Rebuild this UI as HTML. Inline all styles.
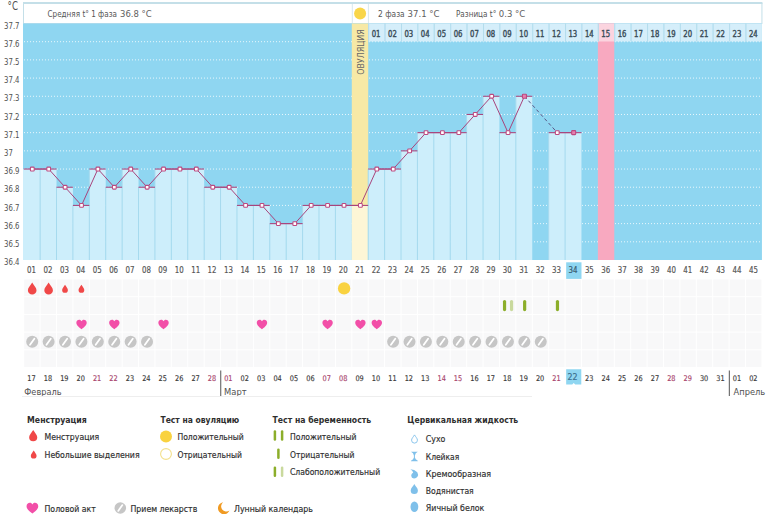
<!DOCTYPE html>
<html><head><meta charset="utf-8"><title>График</title>
<style>html,body{margin:0;padding:0;background:#fff;}body{width:770px;height:514px;overflow:hidden;position:relative;}</style>
</head><body>
<svg width="770" height="514" viewBox="0 0 770 514" style="position:absolute;left:0;top:0"><rect x="23.5" y="3.5" width="738.43" height="20.00" fill="#fff" stroke="#c4dfe8" stroke-width="1"/><rect x="23" y="2" width="739.43" height="2" fill="#c4dfe8"/><line x1="352.30" y1="4" x2="352.30" y2="23.5" stroke="#d8e8ef" stroke-width="1"/><line x1="368.40" y1="4" x2="368.40" y2="23.5" stroke="#d8e8ef" stroke-width="1"/><rect x="23" y="23.5" width="738.93" height="236.50" fill="#8fd6f1"/><line x1="24" y1="41.69" x2="761.93" y2="41.69" stroke="#fff" stroke-opacity="0.8" stroke-width="1" stroke-dasharray="1 2"/><line x1="24" y1="59.88" x2="761.93" y2="59.88" stroke="#fff" stroke-opacity="0.8" stroke-width="1" stroke-dasharray="1 2"/><line x1="24" y1="78.08" x2="761.93" y2="78.08" stroke="#fff" stroke-opacity="0.8" stroke-width="1" stroke-dasharray="1 2"/><line x1="24" y1="96.27" x2="761.93" y2="96.27" stroke="#fff" stroke-opacity="0.8" stroke-width="1" stroke-dasharray="1 2"/><line x1="24" y1="114.46" x2="761.93" y2="114.46" stroke="#fff" stroke-opacity="0.8" stroke-width="1" stroke-dasharray="1 2"/><line x1="24" y1="132.65" x2="761.93" y2="132.65" stroke="#fff" stroke-opacity="0.8" stroke-width="1" stroke-dasharray="1 2"/><line x1="24" y1="150.85" x2="761.93" y2="150.85" stroke="#fff" stroke-opacity="0.8" stroke-width="1" stroke-dasharray="1 2"/><line x1="24" y1="169.04" x2="761.93" y2="169.04" stroke="#fff" stroke-opacity="0.8" stroke-width="1" stroke-dasharray="1 2"/><line x1="24" y1="187.23" x2="761.93" y2="187.23" stroke="#fff" stroke-opacity="0.8" stroke-width="1" stroke-dasharray="1 2"/><line x1="24" y1="205.42" x2="761.93" y2="205.42" stroke="#fff" stroke-opacity="0.8" stroke-width="1" stroke-dasharray="1 2"/><line x1="24" y1="223.62" x2="761.93" y2="223.62" stroke="#fff" stroke-opacity="0.8" stroke-width="1" stroke-dasharray="1 2"/><line x1="24" y1="241.81" x2="761.93" y2="241.81" stroke="#fff" stroke-opacity="0.8" stroke-width="1" stroke-dasharray="1 2"/><rect x="351.80" y="23.5" width="16.41" height="236.50" fill="#f7e9a6"/><rect x="597.88" y="23.5" width="16.41" height="236.50" fill="#f8a9c0"/><rect x="23.00" y="169.04" width="17.11" height="90.96" fill="#cdeefb"/><rect x="40.11" y="169.04" width="16.41" height="90.96" fill="#cdeefb"/><rect x="56.51" y="187.23" width="16.41" height="72.77" fill="#cdeefb"/><rect x="72.92" y="205.42" width="16.41" height="54.58" fill="#cdeefb"/><rect x="89.32" y="169.04" width="16.41" height="90.96" fill="#cdeefb"/><rect x="105.73" y="187.23" width="16.41" height="72.77" fill="#cdeefb"/><rect x="122.13" y="169.04" width="16.40" height="90.96" fill="#cdeefb"/><rect x="138.53" y="187.23" width="16.41" height="72.77" fill="#cdeefb"/><rect x="154.94" y="169.04" width="16.41" height="90.96" fill="#cdeefb"/><rect x="171.34" y="169.04" width="16.41" height="90.96" fill="#cdeefb"/><rect x="187.75" y="169.04" width="16.41" height="90.96" fill="#cdeefb"/><rect x="204.16" y="187.23" width="16.41" height="72.77" fill="#cdeefb"/><rect x="220.56" y="187.23" width="16.41" height="72.77" fill="#cdeefb"/><rect x="236.97" y="205.42" width="16.41" height="54.58" fill="#cdeefb"/><rect x="253.37" y="205.42" width="16.41" height="54.58" fill="#cdeefb"/><rect x="269.78" y="223.62" width="16.40" height="36.38" fill="#cdeefb"/><rect x="286.18" y="223.62" width="16.40" height="36.38" fill="#cdeefb"/><rect x="302.58" y="205.42" width="16.41" height="54.58" fill="#cdeefb"/><rect x="318.99" y="205.42" width="16.41" height="54.58" fill="#cdeefb"/><rect x="335.40" y="205.42" width="16.40" height="54.58" fill="#cdeefb"/><rect x="351.80" y="205.42" width="16.40" height="54.58" fill="#fdf6d6"/><rect x="368.20" y="169.04" width="16.41" height="90.96" fill="#cdeefb"/><rect x="384.61" y="169.04" width="16.41" height="90.96" fill="#cdeefb"/><rect x="401.02" y="150.85" width="16.40" height="109.15" fill="#cdeefb"/><rect x="417.42" y="132.65" width="16.40" height="127.35" fill="#cdeefb"/><rect x="433.82" y="132.65" width="16.41" height="127.35" fill="#cdeefb"/><rect x="450.23" y="132.65" width="16.41" height="127.35" fill="#cdeefb"/><rect x="466.64" y="114.46" width="16.40" height="145.54" fill="#cdeefb"/><rect x="483.04" y="96.27" width="16.40" height="163.73" fill="#cdeefb"/><rect x="499.44" y="132.65" width="16.41" height="127.35" fill="#cdeefb"/><rect x="515.85" y="96.27" width="16.41" height="163.73" fill="#cdeefb"/><rect x="548.66" y="132.65" width="16.40" height="127.35" fill="#cdeefb"/><rect x="565.07" y="132.65" width="16.40" height="127.35" fill="#cdeefb"/><line x1="40.11" y1="169.04" x2="40.11" y2="260.0" stroke="#a6daee" stroke-width="1"/><line x1="56.51" y1="187.23" x2="56.51" y2="260.0" stroke="#a6daee" stroke-width="1"/><line x1="72.92" y1="205.42" x2="72.92" y2="260.0" stroke="#a6daee" stroke-width="1"/><line x1="89.32" y1="169.04" x2="89.32" y2="260.0" stroke="#a6daee" stroke-width="1"/><line x1="105.73" y1="187.23" x2="105.73" y2="260.0" stroke="#a6daee" stroke-width="1"/><line x1="122.13" y1="169.04" x2="122.13" y2="260.0" stroke="#a6daee" stroke-width="1"/><line x1="138.53" y1="187.23" x2="138.53" y2="260.0" stroke="#a6daee" stroke-width="1"/><line x1="154.94" y1="169.04" x2="154.94" y2="260.0" stroke="#a6daee" stroke-width="1"/><line x1="171.34" y1="169.04" x2="171.34" y2="260.0" stroke="#a6daee" stroke-width="1"/><line x1="187.75" y1="169.04" x2="187.75" y2="260.0" stroke="#a6daee" stroke-width="1"/><line x1="204.16" y1="187.23" x2="204.16" y2="260.0" stroke="#a6daee" stroke-width="1"/><line x1="220.56" y1="187.23" x2="220.56" y2="260.0" stroke="#a6daee" stroke-width="1"/><line x1="236.97" y1="205.42" x2="236.97" y2="260.0" stroke="#a6daee" stroke-width="1"/><line x1="253.37" y1="205.42" x2="253.37" y2="260.0" stroke="#a6daee" stroke-width="1"/><line x1="269.78" y1="223.62" x2="269.78" y2="260.0" stroke="#a6daee" stroke-width="1"/><line x1="286.18" y1="223.62" x2="286.18" y2="260.0" stroke="#a6daee" stroke-width="1"/><line x1="302.58" y1="205.42" x2="302.58" y2="260.0" stroke="#a6daee" stroke-width="1"/><line x1="318.99" y1="205.42" x2="318.99" y2="260.0" stroke="#a6daee" stroke-width="1"/><line x1="335.40" y1="205.42" x2="335.40" y2="260.0" stroke="#a6daee" stroke-width="1"/><line x1="368.20" y1="169.04" x2="368.20" y2="260.0" stroke="#a6daee" stroke-width="1"/><line x1="384.61" y1="169.04" x2="384.61" y2="260.0" stroke="#a6daee" stroke-width="1"/><line x1="401.02" y1="150.85" x2="401.02" y2="260.0" stroke="#a6daee" stroke-width="1"/><line x1="417.42" y1="132.65" x2="417.42" y2="260.0" stroke="#a6daee" stroke-width="1"/><line x1="433.82" y1="132.65" x2="433.82" y2="260.0" stroke="#a6daee" stroke-width="1"/><line x1="450.23" y1="132.65" x2="450.23" y2="260.0" stroke="#a6daee" stroke-width="1"/><line x1="466.64" y1="114.46" x2="466.64" y2="260.0" stroke="#a6daee" stroke-width="1"/><line x1="483.04" y1="96.27" x2="483.04" y2="260.0" stroke="#a6daee" stroke-width="1"/><line x1="499.44" y1="132.65" x2="499.44" y2="260.0" stroke="#a6daee" stroke-width="1"/><line x1="515.85" y1="96.27" x2="515.85" y2="260.0" stroke="#a6daee" stroke-width="1"/><line x1="548.66" y1="132.65" x2="548.66" y2="260.0" stroke="#a6daee" stroke-width="1"/><line x1="565.07" y1="132.65" x2="565.07" y2="260.0" stroke="#a6daee" stroke-width="1"/><rect x="368.20" y="23.5" width="16.41" height="18" fill="#d5eefa"/><line x1="368.70" y1="23.5" x2="368.70" y2="41.5" stroke="#b3dcec" stroke-width="1"/><text x="376.01" y="36.90" font-family="'DejaVu Sans', 'Liberation Sans', sans-serif" font-size="8.0" fill="#3a4d58" stroke="#3a4d58" stroke-width="0.4" text-anchor="middle" textLength="8.76" lengthAdjust="spacingAndGlyphs">01</text><rect x="384.61" y="23.5" width="16.41" height="18" fill="#d5eefa"/><line x1="385.11" y1="23.5" x2="385.11" y2="41.5" stroke="#b3dcec" stroke-width="1"/><text x="392.41" y="36.90" font-family="'DejaVu Sans', 'Liberation Sans', sans-serif" font-size="8.0" fill="#3a4d58" stroke="#3a4d58" stroke-width="0.4" text-anchor="middle" textLength="8.76" lengthAdjust="spacingAndGlyphs">02</text><rect x="401.02" y="23.5" width="16.41" height="18" fill="#d5eefa"/><line x1="401.52" y1="23.5" x2="401.52" y2="41.5" stroke="#b3dcec" stroke-width="1"/><text x="408.82" y="36.90" font-family="'DejaVu Sans', 'Liberation Sans', sans-serif" font-size="8.0" fill="#3a4d58" stroke="#3a4d58" stroke-width="0.4" text-anchor="middle" textLength="8.76" lengthAdjust="spacingAndGlyphs">03</text><rect x="417.42" y="23.5" width="16.41" height="18" fill="#d5eefa"/><line x1="417.92" y1="23.5" x2="417.92" y2="41.5" stroke="#b3dcec" stroke-width="1"/><text x="425.22" y="36.90" font-family="'DejaVu Sans', 'Liberation Sans', sans-serif" font-size="8.0" fill="#3a4d58" stroke="#3a4d58" stroke-width="0.4" text-anchor="middle" textLength="8.76" lengthAdjust="spacingAndGlyphs">04</text><rect x="433.82" y="23.5" width="16.41" height="18" fill="#d5eefa"/><line x1="434.32" y1="23.5" x2="434.32" y2="41.5" stroke="#b3dcec" stroke-width="1"/><text x="441.63" y="36.90" font-family="'DejaVu Sans', 'Liberation Sans', sans-serif" font-size="8.0" fill="#3a4d58" stroke="#3a4d58" stroke-width="0.4" text-anchor="middle" textLength="8.76" lengthAdjust="spacingAndGlyphs">05</text><rect x="450.23" y="23.5" width="16.41" height="18" fill="#d5eefa"/><line x1="450.73" y1="23.5" x2="450.73" y2="41.5" stroke="#b3dcec" stroke-width="1"/><text x="458.03" y="36.90" font-family="'DejaVu Sans', 'Liberation Sans', sans-serif" font-size="8.0" fill="#3a4d58" stroke="#3a4d58" stroke-width="0.4" text-anchor="middle" textLength="8.76" lengthAdjust="spacingAndGlyphs">06</text><rect x="466.64" y="23.5" width="16.41" height="18" fill="#d5eefa"/><line x1="467.14" y1="23.5" x2="467.14" y2="41.5" stroke="#b3dcec" stroke-width="1"/><text x="474.44" y="36.90" font-family="'DejaVu Sans', 'Liberation Sans', sans-serif" font-size="8.0" fill="#3a4d58" stroke="#3a4d58" stroke-width="0.4" text-anchor="middle" textLength="8.76" lengthAdjust="spacingAndGlyphs">07</text><rect x="483.04" y="23.5" width="16.41" height="18" fill="#d5eefa"/><line x1="483.54" y1="23.5" x2="483.54" y2="41.5" stroke="#b3dcec" stroke-width="1"/><text x="490.84" y="36.90" font-family="'DejaVu Sans', 'Liberation Sans', sans-serif" font-size="8.0" fill="#3a4d58" stroke="#3a4d58" stroke-width="0.4" text-anchor="middle" textLength="8.76" lengthAdjust="spacingAndGlyphs">08</text><rect x="499.44" y="23.5" width="16.41" height="18" fill="#d5eefa"/><line x1="499.94" y1="23.5" x2="499.94" y2="41.5" stroke="#b3dcec" stroke-width="1"/><text x="507.25" y="36.90" font-family="'DejaVu Sans', 'Liberation Sans', sans-serif" font-size="8.0" fill="#3a4d58" stroke="#3a4d58" stroke-width="0.4" text-anchor="middle" textLength="8.76" lengthAdjust="spacingAndGlyphs">09</text><rect x="515.85" y="23.5" width="16.41" height="18" fill="#d5eefa"/><line x1="516.35" y1="23.5" x2="516.35" y2="41.5" stroke="#b3dcec" stroke-width="1"/><text x="523.65" y="36.90" font-family="'DejaVu Sans', 'Liberation Sans', sans-serif" font-size="8.0" fill="#3a4d58" stroke="#3a4d58" stroke-width="0.4" text-anchor="middle" textLength="8.76" lengthAdjust="spacingAndGlyphs">10</text><rect x="532.26" y="23.5" width="16.41" height="18" fill="#d5eefa"/><line x1="532.76" y1="23.5" x2="532.76" y2="41.5" stroke="#b3dcec" stroke-width="1"/><text x="540.06" y="36.90" font-family="'DejaVu Sans', 'Liberation Sans', sans-serif" font-size="8.0" fill="#3a4d58" stroke="#3a4d58" stroke-width="0.4" text-anchor="middle" textLength="8.76" lengthAdjust="spacingAndGlyphs">11</text><rect x="548.66" y="23.5" width="16.41" height="18" fill="#d5eefa"/><line x1="549.16" y1="23.5" x2="549.16" y2="41.5" stroke="#b3dcec" stroke-width="1"/><text x="556.46" y="36.90" font-family="'DejaVu Sans', 'Liberation Sans', sans-serif" font-size="8.0" fill="#3a4d58" stroke="#3a4d58" stroke-width="0.4" text-anchor="middle" textLength="8.76" lengthAdjust="spacingAndGlyphs">12</text><rect x="565.07" y="23.5" width="16.41" height="18" fill="#d5eefa"/><line x1="565.57" y1="23.5" x2="565.57" y2="41.5" stroke="#b3dcec" stroke-width="1"/><text x="572.87" y="36.90" font-family="'DejaVu Sans', 'Liberation Sans', sans-serif" font-size="8.0" fill="#3a4d58" stroke="#3a4d58" stroke-width="0.4" text-anchor="middle" textLength="8.76" lengthAdjust="spacingAndGlyphs">13</text><rect x="581.47" y="23.5" width="16.41" height="18" fill="#d5eefa"/><line x1="581.97" y1="23.5" x2="581.97" y2="41.5" stroke="#b3dcec" stroke-width="1"/><text x="589.27" y="36.90" font-family="'DejaVu Sans', 'Liberation Sans', sans-serif" font-size="8.0" fill="#3a4d58" stroke="#3a4d58" stroke-width="0.4" text-anchor="middle" textLength="8.76" lengthAdjust="spacingAndGlyphs">14</text><rect x="597.88" y="23.5" width="16.41" height="18" fill="#fbd4df"/><line x1="598.38" y1="23.5" x2="598.38" y2="41.5" stroke="#b3dcec" stroke-width="1"/><text x="605.68" y="36.90" font-family="'DejaVu Sans', 'Liberation Sans', sans-serif" font-size="8.0" fill="#3a4d58" stroke="#3a4d58" stroke-width="0.4" text-anchor="middle" textLength="8.76" lengthAdjust="spacingAndGlyphs">15</text><rect x="614.28" y="23.5" width="16.41" height="18" fill="#d5eefa"/><line x1="614.78" y1="23.5" x2="614.78" y2="41.5" stroke="#b3dcec" stroke-width="1"/><text x="622.08" y="36.90" font-family="'DejaVu Sans', 'Liberation Sans', sans-serif" font-size="8.0" fill="#3a4d58" stroke="#3a4d58" stroke-width="0.4" text-anchor="middle" textLength="8.76" lengthAdjust="spacingAndGlyphs">16</text><rect x="630.69" y="23.5" width="16.41" height="18" fill="#d5eefa"/><line x1="631.19" y1="23.5" x2="631.19" y2="41.5" stroke="#b3dcec" stroke-width="1"/><text x="638.49" y="36.90" font-family="'DejaVu Sans', 'Liberation Sans', sans-serif" font-size="8.0" fill="#3a4d58" stroke="#3a4d58" stroke-width="0.4" text-anchor="middle" textLength="8.76" lengthAdjust="spacingAndGlyphs">17</text><rect x="647.09" y="23.5" width="16.41" height="18" fill="#d5eefa"/><line x1="647.59" y1="23.5" x2="647.59" y2="41.5" stroke="#b3dcec" stroke-width="1"/><text x="654.89" y="36.90" font-family="'DejaVu Sans', 'Liberation Sans', sans-serif" font-size="8.0" fill="#3a4d58" stroke="#3a4d58" stroke-width="0.4" text-anchor="middle" textLength="8.76" lengthAdjust="spacingAndGlyphs">18</text><rect x="663.50" y="23.5" width="16.41" height="18" fill="#d5eefa"/><line x1="664.00" y1="23.5" x2="664.00" y2="41.5" stroke="#b3dcec" stroke-width="1"/><text x="671.30" y="36.90" font-family="'DejaVu Sans', 'Liberation Sans', sans-serif" font-size="8.0" fill="#3a4d58" stroke="#3a4d58" stroke-width="0.4" text-anchor="middle" textLength="8.76" lengthAdjust="spacingAndGlyphs">19</text><rect x="679.90" y="23.5" width="16.41" height="18" fill="#d5eefa"/><line x1="680.40" y1="23.5" x2="680.40" y2="41.5" stroke="#b3dcec" stroke-width="1"/><text x="687.70" y="36.90" font-family="'DejaVu Sans', 'Liberation Sans', sans-serif" font-size="8.0" fill="#3a4d58" stroke="#3a4d58" stroke-width="0.4" text-anchor="middle" textLength="8.76" lengthAdjust="spacingAndGlyphs">20</text><rect x="696.31" y="23.5" width="16.41" height="18" fill="#d5eefa"/><line x1="696.81" y1="23.5" x2="696.81" y2="41.5" stroke="#b3dcec" stroke-width="1"/><text x="704.11" y="36.90" font-family="'DejaVu Sans', 'Liberation Sans', sans-serif" font-size="8.0" fill="#3a4d58" stroke="#3a4d58" stroke-width="0.4" text-anchor="middle" textLength="8.76" lengthAdjust="spacingAndGlyphs">21</text><rect x="712.71" y="23.5" width="16.41" height="18" fill="#d5eefa"/><line x1="713.21" y1="23.5" x2="713.21" y2="41.5" stroke="#b3dcec" stroke-width="1"/><text x="720.51" y="36.90" font-family="'DejaVu Sans', 'Liberation Sans', sans-serif" font-size="8.0" fill="#3a4d58" stroke="#3a4d58" stroke-width="0.4" text-anchor="middle" textLength="8.76" lengthAdjust="spacingAndGlyphs">22</text><rect x="729.12" y="23.5" width="16.41" height="18" fill="#d5eefa"/><line x1="729.62" y1="23.5" x2="729.62" y2="41.5" stroke="#b3dcec" stroke-width="1"/><text x="736.92" y="36.90" font-family="'DejaVu Sans', 'Liberation Sans', sans-serif" font-size="8.0" fill="#3a4d58" stroke="#3a4d58" stroke-width="0.4" text-anchor="middle" textLength="8.76" lengthAdjust="spacingAndGlyphs">23</text><rect x="745.52" y="23.5" width="16.41" height="18" fill="#d5eefa"/><line x1="746.02" y1="23.5" x2="746.02" y2="41.5" stroke="#b3dcec" stroke-width="1"/><text x="753.32" y="36.90" font-family="'DejaVu Sans', 'Liberation Sans', sans-serif" font-size="8.0" fill="#3a4d58" stroke="#3a4d58" stroke-width="0.4" text-anchor="middle" textLength="8.76" lengthAdjust="spacingAndGlyphs">24</text><line x1="23.70" y1="169.04" x2="40.11" y2="169.04" stroke="#a8487f" stroke-width="1.1"/><line x1="40.11" y1="169.04" x2="56.51" y2="169.04" stroke="#a8487f" stroke-width="1.1"/><line x1="56.51" y1="187.23" x2="72.92" y2="187.23" stroke="#a8487f" stroke-width="1.1"/><line x1="72.92" y1="205.42" x2="89.32" y2="205.42" stroke="#a8487f" stroke-width="1.1"/><line x1="89.32" y1="169.04" x2="105.73" y2="169.04" stroke="#a8487f" stroke-width="1.1"/><line x1="105.73" y1="187.23" x2="122.13" y2="187.23" stroke="#a8487f" stroke-width="1.1"/><line x1="122.13" y1="169.04" x2="138.54" y2="169.04" stroke="#a8487f" stroke-width="1.1"/><line x1="138.53" y1="187.23" x2="154.94" y2="187.23" stroke="#a8487f" stroke-width="1.1"/><line x1="154.94" y1="169.04" x2="171.34" y2="169.04" stroke="#a8487f" stroke-width="1.1"/><line x1="171.34" y1="169.04" x2="187.75" y2="169.04" stroke="#a8487f" stroke-width="1.1"/><line x1="187.75" y1="169.04" x2="204.16" y2="169.04" stroke="#a8487f" stroke-width="1.1"/><line x1="204.16" y1="187.23" x2="220.56" y2="187.23" stroke="#a8487f" stroke-width="1.1"/><line x1="220.56" y1="187.23" x2="236.97" y2="187.23" stroke="#a8487f" stroke-width="1.1"/><line x1="236.97" y1="205.42" x2="253.37" y2="205.42" stroke="#a8487f" stroke-width="1.1"/><line x1="253.37" y1="205.42" x2="269.77" y2="205.42" stroke="#a8487f" stroke-width="1.1"/><line x1="269.78" y1="223.62" x2="286.18" y2="223.62" stroke="#a8487f" stroke-width="1.1"/><line x1="286.18" y1="223.62" x2="302.59" y2="223.62" stroke="#a8487f" stroke-width="1.1"/><line x1="302.58" y1="205.42" x2="318.99" y2="205.42" stroke="#a8487f" stroke-width="1.1"/><line x1="318.99" y1="205.42" x2="335.39" y2="205.42" stroke="#a8487f" stroke-width="1.1"/><line x1="335.40" y1="205.42" x2="351.80" y2="205.42" stroke="#a8487f" stroke-width="1.1"/><line x1="351.80" y1="205.42" x2="368.21" y2="205.42" stroke="#a8487f" stroke-width="1.1"/><line x1="368.20" y1="169.04" x2="384.61" y2="169.04" stroke="#a8487f" stroke-width="1.1"/><line x1="384.61" y1="169.04" x2="401.01" y2="169.04" stroke="#a8487f" stroke-width="1.1"/><line x1="401.02" y1="150.85" x2="417.42" y2="150.85" stroke="#a8487f" stroke-width="1.1"/><line x1="417.42" y1="132.65" x2="433.83" y2="132.65" stroke="#a8487f" stroke-width="1.1"/><line x1="433.82" y1="132.65" x2="450.23" y2="132.65" stroke="#a8487f" stroke-width="1.1"/><line x1="450.23" y1="132.65" x2="466.63" y2="132.65" stroke="#a8487f" stroke-width="1.1"/><line x1="466.64" y1="114.46" x2="483.04" y2="114.46" stroke="#a8487f" stroke-width="1.1"/><line x1="483.04" y1="96.27" x2="499.45" y2="96.27" stroke="#a8487f" stroke-width="1.1"/><line x1="499.44" y1="132.65" x2="515.85" y2="132.65" stroke="#a8487f" stroke-width="1.1"/><line x1="515.85" y1="96.27" x2="532.25" y2="96.27" stroke="#a8487f" stroke-width="1.1"/><line x1="548.66" y1="132.65" x2="565.07" y2="132.65" stroke="#a8487f" stroke-width="1.1"/><line x1="565.07" y1="132.65" x2="581.47" y2="132.65" stroke="#a8487f" stroke-width="1.1"/><line x1="32.30" y1="169.04" x2="48.71" y2="169.04" stroke="#a8447c" stroke-width="1"/><line x1="48.71" y1="169.04" x2="65.11" y2="187.23" stroke="#a8447c" stroke-width="1"/><line x1="65.11" y1="187.23" x2="81.52" y2="205.42" stroke="#a8447c" stroke-width="1"/><line x1="81.52" y1="205.42" x2="97.92" y2="169.04" stroke="#a8447c" stroke-width="1"/><line x1="97.92" y1="169.04" x2="114.33" y2="187.23" stroke="#a8447c" stroke-width="1"/><line x1="114.33" y1="187.23" x2="130.73" y2="169.04" stroke="#a8447c" stroke-width="1"/><line x1="130.73" y1="169.04" x2="147.14" y2="187.23" stroke="#a8447c" stroke-width="1"/><line x1="147.14" y1="187.23" x2="163.54" y2="169.04" stroke="#a8447c" stroke-width="1"/><line x1="163.54" y1="169.04" x2="179.95" y2="169.04" stroke="#a8447c" stroke-width="1"/><line x1="179.95" y1="169.04" x2="196.35" y2="169.04" stroke="#a8447c" stroke-width="1"/><line x1="196.35" y1="169.04" x2="212.76" y2="187.23" stroke="#a8447c" stroke-width="1"/><line x1="212.76" y1="187.23" x2="229.16" y2="187.23" stroke="#a8447c" stroke-width="1"/><line x1="229.16" y1="187.23" x2="245.57" y2="205.42" stroke="#a8447c" stroke-width="1"/><line x1="245.57" y1="205.42" x2="261.97" y2="205.42" stroke="#a8447c" stroke-width="1"/><line x1="261.97" y1="205.42" x2="278.38" y2="223.62" stroke="#a8447c" stroke-width="1"/><line x1="278.38" y1="223.62" x2="294.78" y2="223.62" stroke="#a8447c" stroke-width="1"/><line x1="294.78" y1="223.62" x2="311.19" y2="205.42" stroke="#a8447c" stroke-width="1"/><line x1="311.19" y1="205.42" x2="327.59" y2="205.42" stroke="#a8447c" stroke-width="1"/><line x1="327.59" y1="205.42" x2="344.00" y2="205.42" stroke="#a8447c" stroke-width="1"/><line x1="344.00" y1="205.42" x2="360.40" y2="205.42" stroke="#a8447c" stroke-width="1"/><line x1="360.40" y1="205.42" x2="376.81" y2="169.04" stroke="#a8447c" stroke-width="1"/><line x1="376.81" y1="169.04" x2="393.21" y2="169.04" stroke="#a8447c" stroke-width="1"/><line x1="393.21" y1="169.04" x2="409.62" y2="150.85" stroke="#a8447c" stroke-width="1"/><line x1="409.62" y1="150.85" x2="426.02" y2="132.65" stroke="#a8447c" stroke-width="1"/><line x1="426.02" y1="132.65" x2="442.43" y2="132.65" stroke="#a8447c" stroke-width="1"/><line x1="442.43" y1="132.65" x2="458.83" y2="132.65" stroke="#a8447c" stroke-width="1"/><line x1="458.83" y1="132.65" x2="475.24" y2="114.46" stroke="#a8447c" stroke-width="1"/><line x1="475.24" y1="114.46" x2="491.64" y2="96.27" stroke="#a8447c" stroke-width="1"/><line x1="491.64" y1="96.27" x2="508.05" y2="132.65" stroke="#a8447c" stroke-width="1"/><line x1="508.05" y1="132.65" x2="524.45" y2="96.27" stroke="#a8447c" stroke-width="1"/><line x1="524.45" y1="96.27" x2="557.26" y2="132.65" stroke="#5a5888" stroke-width="1" stroke-dasharray="3.5 2.5"/><line x1="557.26" y1="132.65" x2="573.67" y2="132.65" stroke="#a8447c" stroke-width="1"/><rect x="30.40" y="167.14" width="3.8" height="3.8" rx="0.8" fill="#fff" stroke="#bd4a80" stroke-width="1.1"/><rect x="46.81" y="167.14" width="3.8" height="3.8" rx="0.8" fill="#fff" stroke="#bd4a80" stroke-width="1.1"/><rect x="63.21" y="185.33" width="3.8" height="3.8" rx="0.8" fill="#fff" stroke="#bd4a80" stroke-width="1.1"/><rect x="79.62" y="203.52" width="3.8" height="3.8" rx="0.8" fill="#fff" stroke="#bd4a80" stroke-width="1.1"/><rect x="96.02" y="167.14" width="3.8" height="3.8" rx="0.8" fill="#fff" stroke="#bd4a80" stroke-width="1.1"/><rect x="112.43" y="185.33" width="3.8" height="3.8" rx="0.8" fill="#fff" stroke="#bd4a80" stroke-width="1.1"/><rect x="128.83" y="167.14" width="3.8" height="3.8" rx="0.8" fill="#fff" stroke="#bd4a80" stroke-width="1.1"/><rect x="145.24" y="185.33" width="3.8" height="3.8" rx="0.8" fill="#fff" stroke="#bd4a80" stroke-width="1.1"/><rect x="161.64" y="167.14" width="3.8" height="3.8" rx="0.8" fill="#fff" stroke="#bd4a80" stroke-width="1.1"/><rect x="178.05" y="167.14" width="3.8" height="3.8" rx="0.8" fill="#fff" stroke="#bd4a80" stroke-width="1.1"/><rect x="194.45" y="167.14" width="3.8" height="3.8" rx="0.8" fill="#fff" stroke="#bd4a80" stroke-width="1.1"/><rect x="210.86" y="185.33" width="3.8" height="3.8" rx="0.8" fill="#fff" stroke="#bd4a80" stroke-width="1.1"/><rect x="227.26" y="185.33" width="3.8" height="3.8" rx="0.8" fill="#fff" stroke="#bd4a80" stroke-width="1.1"/><rect x="243.67" y="203.52" width="3.8" height="3.8" rx="0.8" fill="#fff" stroke="#bd4a80" stroke-width="1.1"/><rect x="260.07" y="203.52" width="3.8" height="3.8" rx="0.8" fill="#fff" stroke="#bd4a80" stroke-width="1.1"/><rect x="276.48" y="221.72" width="3.8" height="3.8" rx="0.8" fill="#fff" stroke="#bd4a80" stroke-width="1.1"/><rect x="292.88" y="221.72" width="3.8" height="3.8" rx="0.8" fill="#fff" stroke="#bd4a80" stroke-width="1.1"/><rect x="309.29" y="203.52" width="3.8" height="3.8" rx="0.8" fill="#fff" stroke="#bd4a80" stroke-width="1.1"/><rect x="325.69" y="203.52" width="3.8" height="3.8" rx="0.8" fill="#fff" stroke="#bd4a80" stroke-width="1.1"/><rect x="342.10" y="203.52" width="3.8" height="3.8" rx="0.8" fill="#fff" stroke="#bd4a80" stroke-width="1.1"/><rect x="358.50" y="203.52" width="3.8" height="3.8" rx="0.8" fill="#fff" stroke="#bd4a80" stroke-width="1.1"/><rect x="374.91" y="167.14" width="3.8" height="3.8" rx="0.8" fill="#fff" stroke="#bd4a80" stroke-width="1.1"/><rect x="391.31" y="167.14" width="3.8" height="3.8" rx="0.8" fill="#fff" stroke="#bd4a80" stroke-width="1.1"/><rect x="407.72" y="148.95" width="3.8" height="3.8" rx="0.8" fill="#fff" stroke="#bd4a80" stroke-width="1.1"/><rect x="424.12" y="130.75" width="3.8" height="3.8" rx="0.8" fill="#fff" stroke="#bd4a80" stroke-width="1.1"/><rect x="440.53" y="130.75" width="3.8" height="3.8" rx="0.8" fill="#fff" stroke="#bd4a80" stroke-width="1.1"/><rect x="456.93" y="130.75" width="3.8" height="3.8" rx="0.8" fill="#fff" stroke="#bd4a80" stroke-width="1.1"/><rect x="473.34" y="112.56" width="3.8" height="3.8" rx="0.8" fill="#fff" stroke="#bd4a80" stroke-width="1.1"/><rect x="489.74" y="94.37" width="3.8" height="3.8" rx="0.8" fill="#fff" stroke="#bd4a80" stroke-width="1.1"/><rect x="506.15" y="130.75" width="3.8" height="3.8" rx="0.8" fill="#fff" stroke="#bd4a80" stroke-width="1.1"/><rect x="522.45" y="94.27" width="4" height="4" rx="0.6" fill="#e680b0" stroke="#bd4a80" stroke-width="1.1"/><rect x="555.36" y="130.75" width="3.8" height="3.8" rx="0.8" fill="#fff" stroke="#bd4a80" stroke-width="1.1"/><rect x="571.67" y="130.65" width="4" height="4" rx="0.6" fill="#e680b0" stroke="#bd4a80" stroke-width="1.1"/><text transform="translate(363.6,74.8) rotate(-90)" font-family="'DejaVu Sans', 'Liberation Sans', sans-serif" font-size="8.6" fill="#666" textLength="45.5" lengthAdjust="spacingAndGlyphs">ОВУЛЯЦИЯ</text><circle cx="360.1" cy="13.4" r="6" fill="#f9d64a"/><text x="47.50" y="16.80" font-family="'DejaVu Sans', 'Liberation Sans', sans-serif" font-size="8.3" fill="#555" textLength="69.48" lengthAdjust="spacingAndGlyphs">Средняя t° 1 фаза</text><text x="120.00" y="16.80" font-family="'DejaVu Sans', 'Liberation Sans', sans-serif" font-size="9.4" fill="#5e5e5e" textLength="31.66" lengthAdjust="spacingAndGlyphs">36.8 °C</text><text x="378.10" y="16.80" font-family="'DejaVu Sans', 'Liberation Sans', sans-serif" font-size="8.3" fill="#555" textLength="26.58" lengthAdjust="spacingAndGlyphs">2 фаза</text><text x="407.60" y="16.80" font-family="'DejaVu Sans', 'Liberation Sans', sans-serif" font-size="9.4" fill="#5e5e5e" textLength="31.86" lengthAdjust="spacingAndGlyphs">37.1 °C</text><text x="456.00" y="16.80" font-family="'DejaVu Sans', 'Liberation Sans', sans-serif" font-size="8.3" fill="#555" textLength="40.28" lengthAdjust="spacingAndGlyphs">Разница t°</text><text x="498.80" y="16.80" font-family="'DejaVu Sans', 'Liberation Sans', sans-serif" font-size="9.4" fill="#5e5e5e" textLength="26.46" lengthAdjust="spacingAndGlyphs">0.3 °C</text><text x="7.60" y="9.70" font-family="'DejaVu Sans', 'Liberation Sans', sans-serif" font-size="11.5" fill="#505050" textLength="10.30" lengthAdjust="spacingAndGlyphs">°C</text><text x="4.10" y="28.60" font-family="'DejaVu Sans', 'Liberation Sans', sans-serif" font-size="9" fill="#505050" textLength="15.43" lengthAdjust="spacingAndGlyphs">37.7</text><text x="4.10" y="46.79" font-family="'DejaVu Sans', 'Liberation Sans', sans-serif" font-size="9" fill="#505050" textLength="15.43" lengthAdjust="spacingAndGlyphs">37.6</text><text x="4.10" y="64.98" font-family="'DejaVu Sans', 'Liberation Sans', sans-serif" font-size="9" fill="#505050" textLength="15.43" lengthAdjust="spacingAndGlyphs">37.5</text><text x="4.10" y="83.18" font-family="'DejaVu Sans', 'Liberation Sans', sans-serif" font-size="9" fill="#505050" textLength="15.43" lengthAdjust="spacingAndGlyphs">37.4</text><text x="4.10" y="101.37" font-family="'DejaVu Sans', 'Liberation Sans', sans-serif" font-size="9" fill="#505050" textLength="15.43" lengthAdjust="spacingAndGlyphs">37.3</text><text x="4.10" y="119.56" font-family="'DejaVu Sans', 'Liberation Sans', sans-serif" font-size="9" fill="#505050" textLength="15.43" lengthAdjust="spacingAndGlyphs">37.2</text><text x="4.10" y="137.75" font-family="'DejaVu Sans', 'Liberation Sans', sans-serif" font-size="9" fill="#505050" textLength="15.43" lengthAdjust="spacingAndGlyphs">37.1</text><text x="4.10" y="155.95" font-family="'DejaVu Sans', 'Liberation Sans', sans-serif" font-size="9" fill="#505050" textLength="8.73" lengthAdjust="spacingAndGlyphs">37</text><text x="4.10" y="174.14" font-family="'DejaVu Sans', 'Liberation Sans', sans-serif" font-size="9" fill="#505050" textLength="15.43" lengthAdjust="spacingAndGlyphs">36.9</text><text x="4.10" y="192.33" font-family="'DejaVu Sans', 'Liberation Sans', sans-serif" font-size="9" fill="#505050" textLength="15.43" lengthAdjust="spacingAndGlyphs">36.8</text><text x="4.10" y="210.52" font-family="'DejaVu Sans', 'Liberation Sans', sans-serif" font-size="9" fill="#505050" textLength="15.43" lengthAdjust="spacingAndGlyphs">36.7</text><text x="4.10" y="228.72" font-family="'DejaVu Sans', 'Liberation Sans', sans-serif" font-size="9" fill="#505050" textLength="15.43" lengthAdjust="spacingAndGlyphs">36.6</text><text x="4.10" y="246.91" font-family="'DejaVu Sans', 'Liberation Sans', sans-serif" font-size="9" fill="#505050" textLength="15.43" lengthAdjust="spacingAndGlyphs">36.5</text><text x="4.10" y="265.10" font-family="'DejaVu Sans', 'Liberation Sans', sans-serif" font-size="9" fill="#505050" textLength="15.43" lengthAdjust="spacingAndGlyphs">36.4</text><rect x="566.17" y="262.3" width="15.31" height="16.6" fill="#8fd6f1"/><text x="31.60" y="273.00" font-family="'DejaVu Sans', 'Liberation Sans', sans-serif" font-size="8.1" fill="#555555" stroke="#555555" stroke-width="0.18" text-anchor="middle" textLength="8.97" lengthAdjust="spacingAndGlyphs">01</text><text x="48.01" y="273.00" font-family="'DejaVu Sans', 'Liberation Sans', sans-serif" font-size="8.1" fill="#555555" stroke="#555555" stroke-width="0.18" text-anchor="middle" textLength="8.97" lengthAdjust="spacingAndGlyphs">02</text><text x="64.41" y="273.00" font-family="'DejaVu Sans', 'Liberation Sans', sans-serif" font-size="8.1" fill="#555555" stroke="#555555" stroke-width="0.18" text-anchor="middle" textLength="8.97" lengthAdjust="spacingAndGlyphs">03</text><text x="80.82" y="273.00" font-family="'DejaVu Sans', 'Liberation Sans', sans-serif" font-size="8.1" fill="#555555" stroke="#555555" stroke-width="0.18" text-anchor="middle" textLength="8.97" lengthAdjust="spacingAndGlyphs">04</text><text x="97.22" y="273.00" font-family="'DejaVu Sans', 'Liberation Sans', sans-serif" font-size="8.1" fill="#555555" stroke="#555555" stroke-width="0.18" text-anchor="middle" textLength="8.97" lengthAdjust="spacingAndGlyphs">05</text><text x="113.63" y="273.00" font-family="'DejaVu Sans', 'Liberation Sans', sans-serif" font-size="8.1" fill="#555555" stroke="#555555" stroke-width="0.18" text-anchor="middle" textLength="8.97" lengthAdjust="spacingAndGlyphs">06</text><text x="130.03" y="273.00" font-family="'DejaVu Sans', 'Liberation Sans', sans-serif" font-size="8.1" fill="#555555" stroke="#555555" stroke-width="0.18" text-anchor="middle" textLength="8.97" lengthAdjust="spacingAndGlyphs">07</text><text x="146.44" y="273.00" font-family="'DejaVu Sans', 'Liberation Sans', sans-serif" font-size="8.1" fill="#555555" stroke="#555555" stroke-width="0.18" text-anchor="middle" textLength="8.97" lengthAdjust="spacingAndGlyphs">08</text><text x="162.84" y="273.00" font-family="'DejaVu Sans', 'Liberation Sans', sans-serif" font-size="8.1" fill="#555555" stroke="#555555" stroke-width="0.18" text-anchor="middle" textLength="8.97" lengthAdjust="spacingAndGlyphs">09</text><text x="179.25" y="273.00" font-family="'DejaVu Sans', 'Liberation Sans', sans-serif" font-size="8.1" fill="#555555" stroke="#555555" stroke-width="0.18" text-anchor="middle" textLength="8.97" lengthAdjust="spacingAndGlyphs">10</text><text x="195.65" y="273.00" font-family="'DejaVu Sans', 'Liberation Sans', sans-serif" font-size="8.1" fill="#555555" stroke="#555555" stroke-width="0.18" text-anchor="middle" textLength="8.97" lengthAdjust="spacingAndGlyphs">11</text><text x="212.06" y="273.00" font-family="'DejaVu Sans', 'Liberation Sans', sans-serif" font-size="8.1" fill="#555555" stroke="#555555" stroke-width="0.18" text-anchor="middle" textLength="8.97" lengthAdjust="spacingAndGlyphs">12</text><text x="228.46" y="273.00" font-family="'DejaVu Sans', 'Liberation Sans', sans-serif" font-size="8.1" fill="#555555" stroke="#555555" stroke-width="0.18" text-anchor="middle" textLength="8.97" lengthAdjust="spacingAndGlyphs">13</text><text x="244.87" y="273.00" font-family="'DejaVu Sans', 'Liberation Sans', sans-serif" font-size="8.1" fill="#555555" stroke="#555555" stroke-width="0.18" text-anchor="middle" textLength="8.97" lengthAdjust="spacingAndGlyphs">14</text><text x="261.27" y="273.00" font-family="'DejaVu Sans', 'Liberation Sans', sans-serif" font-size="8.1" fill="#555555" stroke="#555555" stroke-width="0.18" text-anchor="middle" textLength="8.97" lengthAdjust="spacingAndGlyphs">15</text><text x="277.68" y="273.00" font-family="'DejaVu Sans', 'Liberation Sans', sans-serif" font-size="8.1" fill="#555555" stroke="#555555" stroke-width="0.18" text-anchor="middle" textLength="8.97" lengthAdjust="spacingAndGlyphs">16</text><text x="294.08" y="273.00" font-family="'DejaVu Sans', 'Liberation Sans', sans-serif" font-size="8.1" fill="#555555" stroke="#555555" stroke-width="0.18" text-anchor="middle" textLength="8.97" lengthAdjust="spacingAndGlyphs">17</text><text x="310.49" y="273.00" font-family="'DejaVu Sans', 'Liberation Sans', sans-serif" font-size="8.1" fill="#555555" stroke="#555555" stroke-width="0.18" text-anchor="middle" textLength="8.97" lengthAdjust="spacingAndGlyphs">18</text><text x="326.89" y="273.00" font-family="'DejaVu Sans', 'Liberation Sans', sans-serif" font-size="8.1" fill="#555555" stroke="#555555" stroke-width="0.18" text-anchor="middle" textLength="8.97" lengthAdjust="spacingAndGlyphs">19</text><text x="343.30" y="273.00" font-family="'DejaVu Sans', 'Liberation Sans', sans-serif" font-size="8.1" fill="#555555" stroke="#555555" stroke-width="0.18" text-anchor="middle" textLength="8.97" lengthAdjust="spacingAndGlyphs">20</text><text x="359.70" y="273.00" font-family="'DejaVu Sans', 'Liberation Sans', sans-serif" font-size="8.1" fill="#555555" stroke="#555555" stroke-width="0.18" text-anchor="middle" textLength="8.97" lengthAdjust="spacingAndGlyphs">21</text><text x="376.11" y="273.00" font-family="'DejaVu Sans', 'Liberation Sans', sans-serif" font-size="8.1" fill="#555555" stroke="#555555" stroke-width="0.18" text-anchor="middle" textLength="8.97" lengthAdjust="spacingAndGlyphs">22</text><text x="392.51" y="273.00" font-family="'DejaVu Sans', 'Liberation Sans', sans-serif" font-size="8.1" fill="#555555" stroke="#555555" stroke-width="0.18" text-anchor="middle" textLength="8.97" lengthAdjust="spacingAndGlyphs">23</text><text x="408.92" y="273.00" font-family="'DejaVu Sans', 'Liberation Sans', sans-serif" font-size="8.1" fill="#555555" stroke="#555555" stroke-width="0.18" text-anchor="middle" textLength="8.97" lengthAdjust="spacingAndGlyphs">24</text><text x="425.32" y="273.00" font-family="'DejaVu Sans', 'Liberation Sans', sans-serif" font-size="8.1" fill="#555555" stroke="#555555" stroke-width="0.18" text-anchor="middle" textLength="8.97" lengthAdjust="spacingAndGlyphs">25</text><text x="441.73" y="273.00" font-family="'DejaVu Sans', 'Liberation Sans', sans-serif" font-size="8.1" fill="#555555" stroke="#555555" stroke-width="0.18" text-anchor="middle" textLength="8.97" lengthAdjust="spacingAndGlyphs">26</text><text x="458.13" y="273.00" font-family="'DejaVu Sans', 'Liberation Sans', sans-serif" font-size="8.1" fill="#555555" stroke="#555555" stroke-width="0.18" text-anchor="middle" textLength="8.97" lengthAdjust="spacingAndGlyphs">27</text><text x="474.54" y="273.00" font-family="'DejaVu Sans', 'Liberation Sans', sans-serif" font-size="8.1" fill="#555555" stroke="#555555" stroke-width="0.18" text-anchor="middle" textLength="8.97" lengthAdjust="spacingAndGlyphs">28</text><text x="490.94" y="273.00" font-family="'DejaVu Sans', 'Liberation Sans', sans-serif" font-size="8.1" fill="#555555" stroke="#555555" stroke-width="0.18" text-anchor="middle" textLength="8.97" lengthAdjust="spacingAndGlyphs">29</text><text x="507.35" y="273.00" font-family="'DejaVu Sans', 'Liberation Sans', sans-serif" font-size="8.1" fill="#555555" stroke="#555555" stroke-width="0.18" text-anchor="middle" textLength="8.97" lengthAdjust="spacingAndGlyphs">30</text><text x="523.75" y="273.00" font-family="'DejaVu Sans', 'Liberation Sans', sans-serif" font-size="8.1" fill="#555555" stroke="#555555" stroke-width="0.18" text-anchor="middle" textLength="8.97" lengthAdjust="spacingAndGlyphs">31</text><text x="540.16" y="273.00" font-family="'DejaVu Sans', 'Liberation Sans', sans-serif" font-size="8.1" fill="#555555" stroke="#555555" stroke-width="0.18" text-anchor="middle" textLength="8.97" lengthAdjust="spacingAndGlyphs">32</text><text x="556.56" y="273.00" font-family="'DejaVu Sans', 'Liberation Sans', sans-serif" font-size="8.1" fill="#555555" stroke="#555555" stroke-width="0.18" text-anchor="middle" textLength="8.97" lengthAdjust="spacingAndGlyphs">33</text><text x="572.97" y="273.00" font-family="'DejaVu Sans', 'Liberation Sans', sans-serif" font-size="8.1" fill="#35586e" stroke="#35586e" stroke-width="0.18" text-anchor="middle" textLength="8.97" lengthAdjust="spacingAndGlyphs">34</text><text x="589.37" y="273.00" font-family="'DejaVu Sans', 'Liberation Sans', sans-serif" font-size="8.1" fill="#555555" stroke="#555555" stroke-width="0.18" text-anchor="middle" textLength="8.97" lengthAdjust="spacingAndGlyphs">35</text><text x="605.78" y="273.00" font-family="'DejaVu Sans', 'Liberation Sans', sans-serif" font-size="8.1" fill="#555555" stroke="#555555" stroke-width="0.18" text-anchor="middle" textLength="8.97" lengthAdjust="spacingAndGlyphs">36</text><text x="622.18" y="273.00" font-family="'DejaVu Sans', 'Liberation Sans', sans-serif" font-size="8.1" fill="#555555" stroke="#555555" stroke-width="0.18" text-anchor="middle" textLength="8.97" lengthAdjust="spacingAndGlyphs">37</text><text x="638.59" y="273.00" font-family="'DejaVu Sans', 'Liberation Sans', sans-serif" font-size="8.1" fill="#555555" stroke="#555555" stroke-width="0.18" text-anchor="middle" textLength="8.97" lengthAdjust="spacingAndGlyphs">38</text><text x="654.99" y="273.00" font-family="'DejaVu Sans', 'Liberation Sans', sans-serif" font-size="8.1" fill="#555555" stroke="#555555" stroke-width="0.18" text-anchor="middle" textLength="8.97" lengthAdjust="spacingAndGlyphs">39</text><text x="671.40" y="273.00" font-family="'DejaVu Sans', 'Liberation Sans', sans-serif" font-size="8.1" fill="#555555" stroke="#555555" stroke-width="0.18" text-anchor="middle" textLength="8.97" lengthAdjust="spacingAndGlyphs">40</text><text x="687.80" y="273.00" font-family="'DejaVu Sans', 'Liberation Sans', sans-serif" font-size="8.1" fill="#555555" stroke="#555555" stroke-width="0.18" text-anchor="middle" textLength="8.97" lengthAdjust="spacingAndGlyphs">41</text><text x="704.21" y="273.00" font-family="'DejaVu Sans', 'Liberation Sans', sans-serif" font-size="8.1" fill="#555555" stroke="#555555" stroke-width="0.18" text-anchor="middle" textLength="8.97" lengthAdjust="spacingAndGlyphs">42</text><text x="720.61" y="273.00" font-family="'DejaVu Sans', 'Liberation Sans', sans-serif" font-size="8.1" fill="#555555" stroke="#555555" stroke-width="0.18" text-anchor="middle" textLength="8.97" lengthAdjust="spacingAndGlyphs">43</text><text x="737.02" y="273.00" font-family="'DejaVu Sans', 'Liberation Sans', sans-serif" font-size="8.1" fill="#555555" stroke="#555555" stroke-width="0.18" text-anchor="middle" textLength="8.97" lengthAdjust="spacingAndGlyphs">44</text><text x="753.42" y="273.00" font-family="'DejaVu Sans', 'Liberation Sans', sans-serif" font-size="8.1" fill="#555555" stroke="#555555" stroke-width="0.18" text-anchor="middle" textLength="8.97" lengthAdjust="spacingAndGlyphs">45</text><rect x="24.20" y="279.50" width="15.41" height="16.7" fill="#f8f8f9"/><rect x="40.61" y="279.50" width="15.41" height="16.7" fill="#f8f8f9"/><rect x="57.01" y="279.50" width="15.41" height="16.7" fill="#f8f8f9"/><rect x="73.42" y="279.50" width="15.41" height="16.7" fill="#f8f8f9"/><rect x="89.82" y="279.50" width="15.41" height="16.7" fill="#f8f8f9"/><rect x="106.23" y="279.50" width="15.41" height="16.7" fill="#f8f8f9"/><rect x="122.63" y="279.50" width="15.41" height="16.7" fill="#f8f8f9"/><rect x="139.03" y="279.50" width="15.41" height="16.7" fill="#f8f8f9"/><rect x="155.44" y="279.50" width="15.41" height="16.7" fill="#f8f8f9"/><rect x="171.84" y="279.50" width="15.41" height="16.7" fill="#f8f8f9"/><rect x="188.25" y="279.50" width="15.41" height="16.7" fill="#f8f8f9"/><rect x="204.66" y="279.50" width="15.41" height="16.7" fill="#f8f8f9"/><rect x="221.06" y="279.50" width="15.41" height="16.7" fill="#f8f8f9"/><rect x="237.47" y="279.50" width="15.41" height="16.7" fill="#f8f8f9"/><rect x="253.87" y="279.50" width="15.41" height="16.7" fill="#f8f8f9"/><rect x="270.28" y="279.50" width="15.41" height="16.7" fill="#f8f8f9"/><rect x="286.68" y="279.50" width="15.41" height="16.7" fill="#f8f8f9"/><rect x="303.08" y="279.50" width="15.41" height="16.7" fill="#f8f8f9"/><rect x="319.49" y="279.50" width="15.41" height="16.7" fill="#f8f8f9"/><rect x="335.90" y="279.50" width="15.41" height="16.7" fill="#f8f8f9"/><rect x="352.30" y="279.50" width="15.41" height="16.7" fill="#f8f8f9"/><rect x="368.70" y="279.50" width="15.41" height="16.7" fill="#f8f8f9"/><rect x="385.11" y="279.50" width="15.41" height="16.7" fill="#f8f8f9"/><rect x="401.52" y="279.50" width="15.41" height="16.7" fill="#f8f8f9"/><rect x="417.92" y="279.50" width="15.41" height="16.7" fill="#f8f8f9"/><rect x="434.32" y="279.50" width="15.41" height="16.7" fill="#f8f8f9"/><rect x="450.73" y="279.50" width="15.41" height="16.7" fill="#f8f8f9"/><rect x="467.14" y="279.50" width="15.41" height="16.7" fill="#f8f8f9"/><rect x="483.54" y="279.50" width="15.41" height="16.7" fill="#f8f8f9"/><rect x="499.94" y="279.50" width="15.41" height="16.7" fill="#f8f8f9"/><rect x="516.35" y="279.50" width="15.41" height="16.7" fill="#f8f8f9"/><rect x="532.76" y="279.50" width="15.41" height="16.7" fill="#f8f8f9"/><rect x="549.16" y="279.50" width="15.41" height="16.7" fill="#f8f8f9"/><rect x="565.57" y="279.50" width="15.41" height="16.7" fill="#f8f8f9"/><rect x="581.97" y="279.50" width="15.41" height="16.7" fill="#f8f8f9"/><rect x="598.38" y="279.50" width="15.41" height="16.7" fill="#f8f8f9"/><rect x="614.78" y="279.50" width="15.41" height="16.7" fill="#f8f8f9"/><rect x="631.19" y="279.50" width="15.41" height="16.7" fill="#f8f8f9"/><rect x="647.59" y="279.50" width="15.41" height="16.7" fill="#f8f8f9"/><rect x="664.00" y="279.50" width="15.41" height="16.7" fill="#f8f8f9"/><rect x="680.40" y="279.50" width="15.41" height="16.7" fill="#f8f8f9"/><rect x="696.81" y="279.50" width="15.41" height="16.7" fill="#f8f8f9"/><rect x="713.21" y="279.50" width="15.41" height="16.7" fill="#f8f8f9"/><rect x="729.62" y="279.50" width="15.41" height="16.7" fill="#f8f8f9"/><rect x="746.02" y="279.50" width="15.41" height="16.7" fill="#f8f8f9"/><rect x="24.20" y="297.20" width="15.41" height="16.7" fill="#f8f8f9"/><rect x="40.61" y="297.20" width="15.41" height="16.7" fill="#f8f8f9"/><rect x="57.01" y="297.20" width="15.41" height="16.7" fill="#f8f8f9"/><rect x="73.42" y="297.20" width="15.41" height="16.7" fill="#f8f8f9"/><rect x="89.82" y="297.20" width="15.41" height="16.7" fill="#f8f8f9"/><rect x="106.23" y="297.20" width="15.41" height="16.7" fill="#f8f8f9"/><rect x="122.63" y="297.20" width="15.41" height="16.7" fill="#f8f8f9"/><rect x="139.03" y="297.20" width="15.41" height="16.7" fill="#f8f8f9"/><rect x="155.44" y="297.20" width="15.41" height="16.7" fill="#f8f8f9"/><rect x="171.84" y="297.20" width="15.41" height="16.7" fill="#f8f8f9"/><rect x="188.25" y="297.20" width="15.41" height="16.7" fill="#f8f8f9"/><rect x="204.66" y="297.20" width="15.41" height="16.7" fill="#f8f8f9"/><rect x="221.06" y="297.20" width="15.41" height="16.7" fill="#f8f8f9"/><rect x="237.47" y="297.20" width="15.41" height="16.7" fill="#f8f8f9"/><rect x="253.87" y="297.20" width="15.41" height="16.7" fill="#f8f8f9"/><rect x="270.28" y="297.20" width="15.41" height="16.7" fill="#f8f8f9"/><rect x="286.68" y="297.20" width="15.41" height="16.7" fill="#f8f8f9"/><rect x="303.08" y="297.20" width="15.41" height="16.7" fill="#f8f8f9"/><rect x="319.49" y="297.20" width="15.41" height="16.7" fill="#f8f8f9"/><rect x="335.90" y="297.20" width="15.41" height="16.7" fill="#f8f8f9"/><rect x="352.30" y="297.20" width="15.41" height="16.7" fill="#f8f8f9"/><rect x="368.70" y="297.20" width="15.41" height="16.7" fill="#f8f8f9"/><rect x="385.11" y="297.20" width="15.41" height="16.7" fill="#f8f8f9"/><rect x="401.52" y="297.20" width="15.41" height="16.7" fill="#f8f8f9"/><rect x="417.92" y="297.20" width="15.41" height="16.7" fill="#f8f8f9"/><rect x="434.32" y="297.20" width="15.41" height="16.7" fill="#f8f8f9"/><rect x="450.73" y="297.20" width="15.41" height="16.7" fill="#f8f8f9"/><rect x="467.14" y="297.20" width="15.41" height="16.7" fill="#f8f8f9"/><rect x="483.54" y="297.20" width="15.41" height="16.7" fill="#f8f8f9"/><rect x="499.94" y="297.20" width="15.41" height="16.7" fill="#f8f8f9"/><rect x="516.35" y="297.20" width="15.41" height="16.7" fill="#f8f8f9"/><rect x="532.76" y="297.20" width="15.41" height="16.7" fill="#f8f8f9"/><rect x="549.16" y="297.20" width="15.41" height="16.7" fill="#f8f8f9"/><rect x="565.57" y="297.20" width="15.41" height="16.7" fill="#f8f8f9"/><rect x="581.97" y="297.20" width="15.41" height="16.7" fill="#f8f8f9"/><rect x="598.38" y="297.20" width="15.41" height="16.7" fill="#f8f8f9"/><rect x="614.78" y="297.20" width="15.41" height="16.7" fill="#f8f8f9"/><rect x="631.19" y="297.20" width="15.41" height="16.7" fill="#f8f8f9"/><rect x="647.59" y="297.20" width="15.41" height="16.7" fill="#f8f8f9"/><rect x="664.00" y="297.20" width="15.41" height="16.7" fill="#f8f8f9"/><rect x="680.40" y="297.20" width="15.41" height="16.7" fill="#f8f8f9"/><rect x="696.81" y="297.20" width="15.41" height="16.7" fill="#f8f8f9"/><rect x="713.21" y="297.20" width="15.41" height="16.7" fill="#f8f8f9"/><rect x="729.62" y="297.20" width="15.41" height="16.7" fill="#f8f8f9"/><rect x="746.02" y="297.20" width="15.41" height="16.7" fill="#f8f8f9"/><rect x="24.20" y="314.90" width="15.41" height="16.7" fill="#f8f8f9"/><rect x="40.61" y="314.90" width="15.41" height="16.7" fill="#f8f8f9"/><rect x="57.01" y="314.90" width="15.41" height="16.7" fill="#f8f8f9"/><rect x="73.42" y="314.90" width="15.41" height="16.7" fill="#f8f8f9"/><rect x="89.82" y="314.90" width="15.41" height="16.7" fill="#f8f8f9"/><rect x="106.23" y="314.90" width="15.41" height="16.7" fill="#f8f8f9"/><rect x="122.63" y="314.90" width="15.41" height="16.7" fill="#f8f8f9"/><rect x="139.03" y="314.90" width="15.41" height="16.7" fill="#f8f8f9"/><rect x="155.44" y="314.90" width="15.41" height="16.7" fill="#f8f8f9"/><rect x="171.84" y="314.90" width="15.41" height="16.7" fill="#f8f8f9"/><rect x="188.25" y="314.90" width="15.41" height="16.7" fill="#f8f8f9"/><rect x="204.66" y="314.90" width="15.41" height="16.7" fill="#f8f8f9"/><rect x="221.06" y="314.90" width="15.41" height="16.7" fill="#f8f8f9"/><rect x="237.47" y="314.90" width="15.41" height="16.7" fill="#f8f8f9"/><rect x="253.87" y="314.90" width="15.41" height="16.7" fill="#f8f8f9"/><rect x="270.28" y="314.90" width="15.41" height="16.7" fill="#f8f8f9"/><rect x="286.68" y="314.90" width="15.41" height="16.7" fill="#f8f8f9"/><rect x="303.08" y="314.90" width="15.41" height="16.7" fill="#f8f8f9"/><rect x="319.49" y="314.90" width="15.41" height="16.7" fill="#f8f8f9"/><rect x="335.90" y="314.90" width="15.41" height="16.7" fill="#f8f8f9"/><rect x="352.30" y="314.90" width="15.41" height="16.7" fill="#f8f8f9"/><rect x="368.70" y="314.90" width="15.41" height="16.7" fill="#f8f8f9"/><rect x="385.11" y="314.90" width="15.41" height="16.7" fill="#f8f8f9"/><rect x="401.52" y="314.90" width="15.41" height="16.7" fill="#f8f8f9"/><rect x="417.92" y="314.90" width="15.41" height="16.7" fill="#f8f8f9"/><rect x="434.32" y="314.90" width="15.41" height="16.7" fill="#f8f8f9"/><rect x="450.73" y="314.90" width="15.41" height="16.7" fill="#f8f8f9"/><rect x="467.14" y="314.90" width="15.41" height="16.7" fill="#f8f8f9"/><rect x="483.54" y="314.90" width="15.41" height="16.7" fill="#f8f8f9"/><rect x="499.94" y="314.90" width="15.41" height="16.7" fill="#f8f8f9"/><rect x="516.35" y="314.90" width="15.41" height="16.7" fill="#f8f8f9"/><rect x="532.76" y="314.90" width="15.41" height="16.7" fill="#f8f8f9"/><rect x="549.16" y="314.90" width="15.41" height="16.7" fill="#f8f8f9"/><rect x="565.57" y="314.90" width="15.41" height="16.7" fill="#f8f8f9"/><rect x="581.97" y="314.90" width="15.41" height="16.7" fill="#f8f8f9"/><rect x="598.38" y="314.90" width="15.41" height="16.7" fill="#f8f8f9"/><rect x="614.78" y="314.90" width="15.41" height="16.7" fill="#f8f8f9"/><rect x="631.19" y="314.90" width="15.41" height="16.7" fill="#f8f8f9"/><rect x="647.59" y="314.90" width="15.41" height="16.7" fill="#f8f8f9"/><rect x="664.00" y="314.90" width="15.41" height="16.7" fill="#f8f8f9"/><rect x="680.40" y="314.90" width="15.41" height="16.7" fill="#f8f8f9"/><rect x="696.81" y="314.90" width="15.41" height="16.7" fill="#f8f8f9"/><rect x="713.21" y="314.90" width="15.41" height="16.7" fill="#f8f8f9"/><rect x="729.62" y="314.90" width="15.41" height="16.7" fill="#f8f8f9"/><rect x="746.02" y="314.90" width="15.41" height="16.7" fill="#f8f8f9"/><rect x="24.20" y="332.60" width="15.41" height="16.7" fill="#f8f8f9"/><rect x="40.61" y="332.60" width="15.41" height="16.7" fill="#f8f8f9"/><rect x="57.01" y="332.60" width="15.41" height="16.7" fill="#f8f8f9"/><rect x="73.42" y="332.60" width="15.41" height="16.7" fill="#f8f8f9"/><rect x="89.82" y="332.60" width="15.41" height="16.7" fill="#f8f8f9"/><rect x="106.23" y="332.60" width="15.41" height="16.7" fill="#f8f8f9"/><rect x="122.63" y="332.60" width="15.41" height="16.7" fill="#f8f8f9"/><rect x="139.03" y="332.60" width="15.41" height="16.7" fill="#f8f8f9"/><rect x="155.44" y="332.60" width="15.41" height="16.7" fill="#f8f8f9"/><rect x="171.84" y="332.60" width="15.41" height="16.7" fill="#f8f8f9"/><rect x="188.25" y="332.60" width="15.41" height="16.7" fill="#f8f8f9"/><rect x="204.66" y="332.60" width="15.41" height="16.7" fill="#f8f8f9"/><rect x="221.06" y="332.60" width="15.41" height="16.7" fill="#f8f8f9"/><rect x="237.47" y="332.60" width="15.41" height="16.7" fill="#f8f8f9"/><rect x="253.87" y="332.60" width="15.41" height="16.7" fill="#f8f8f9"/><rect x="270.28" y="332.60" width="15.41" height="16.7" fill="#f8f8f9"/><rect x="286.68" y="332.60" width="15.41" height="16.7" fill="#f8f8f9"/><rect x="303.08" y="332.60" width="15.41" height="16.7" fill="#f8f8f9"/><rect x="319.49" y="332.60" width="15.41" height="16.7" fill="#f8f8f9"/><rect x="335.90" y="332.60" width="15.41" height="16.7" fill="#f8f8f9"/><rect x="352.30" y="332.60" width="15.41" height="16.7" fill="#f8f8f9"/><rect x="368.70" y="332.60" width="15.41" height="16.7" fill="#f8f8f9"/><rect x="385.11" y="332.60" width="15.41" height="16.7" fill="#f8f8f9"/><rect x="401.52" y="332.60" width="15.41" height="16.7" fill="#f8f8f9"/><rect x="417.92" y="332.60" width="15.41" height="16.7" fill="#f8f8f9"/><rect x="434.32" y="332.60" width="15.41" height="16.7" fill="#f8f8f9"/><rect x="450.73" y="332.60" width="15.41" height="16.7" fill="#f8f8f9"/><rect x="467.14" y="332.60" width="15.41" height="16.7" fill="#f8f8f9"/><rect x="483.54" y="332.60" width="15.41" height="16.7" fill="#f8f8f9"/><rect x="499.94" y="332.60" width="15.41" height="16.7" fill="#f8f8f9"/><rect x="516.35" y="332.60" width="15.41" height="16.7" fill="#f8f8f9"/><rect x="532.76" y="332.60" width="15.41" height="16.7" fill="#f8f8f9"/><rect x="549.16" y="332.60" width="15.41" height="16.7" fill="#f8f8f9"/><rect x="565.57" y="332.60" width="15.41" height="16.7" fill="#f8f8f9"/><rect x="581.97" y="332.60" width="15.41" height="16.7" fill="#f8f8f9"/><rect x="598.38" y="332.60" width="15.41" height="16.7" fill="#f8f8f9"/><rect x="614.78" y="332.60" width="15.41" height="16.7" fill="#f8f8f9"/><rect x="631.19" y="332.60" width="15.41" height="16.7" fill="#f8f8f9"/><rect x="647.59" y="332.60" width="15.41" height="16.7" fill="#f8f8f9"/><rect x="664.00" y="332.60" width="15.41" height="16.7" fill="#f8f8f9"/><rect x="680.40" y="332.60" width="15.41" height="16.7" fill="#f8f8f9"/><rect x="696.81" y="332.60" width="15.41" height="16.7" fill="#f8f8f9"/><rect x="713.21" y="332.60" width="15.41" height="16.7" fill="#f8f8f9"/><rect x="729.62" y="332.60" width="15.41" height="16.7" fill="#f8f8f9"/><rect x="746.02" y="332.60" width="15.41" height="16.7" fill="#f8f8f9"/><rect x="24.20" y="350.30" width="15.41" height="16.7" fill="#f8f8f9"/><rect x="40.61" y="350.30" width="15.41" height="16.7" fill="#f8f8f9"/><rect x="57.01" y="350.30" width="15.41" height="16.7" fill="#f8f8f9"/><rect x="73.42" y="350.30" width="15.41" height="16.7" fill="#f8f8f9"/><rect x="89.82" y="350.30" width="15.41" height="16.7" fill="#f8f8f9"/><rect x="106.23" y="350.30" width="15.41" height="16.7" fill="#f8f8f9"/><rect x="122.63" y="350.30" width="15.41" height="16.7" fill="#f8f8f9"/><rect x="139.03" y="350.30" width="15.41" height="16.7" fill="#f8f8f9"/><rect x="155.44" y="350.30" width="15.41" height="16.7" fill="#f8f8f9"/><rect x="171.84" y="350.30" width="15.41" height="16.7" fill="#f8f8f9"/><rect x="188.25" y="350.30" width="15.41" height="16.7" fill="#f8f8f9"/><rect x="204.66" y="350.30" width="15.41" height="16.7" fill="#f8f8f9"/><rect x="221.06" y="350.30" width="15.41" height="16.7" fill="#f8f8f9"/><rect x="237.47" y="350.30" width="15.41" height="16.7" fill="#f8f8f9"/><rect x="253.87" y="350.30" width="15.41" height="16.7" fill="#f8f8f9"/><rect x="270.28" y="350.30" width="15.41" height="16.7" fill="#f8f8f9"/><rect x="286.68" y="350.30" width="15.41" height="16.7" fill="#f8f8f9"/><rect x="303.08" y="350.30" width="15.41" height="16.7" fill="#f8f8f9"/><rect x="319.49" y="350.30" width="15.41" height="16.7" fill="#f8f8f9"/><rect x="335.90" y="350.30" width="15.41" height="16.7" fill="#f8f8f9"/><rect x="352.30" y="350.30" width="15.41" height="16.7" fill="#f8f8f9"/><rect x="368.70" y="350.30" width="15.41" height="16.7" fill="#f8f8f9"/><rect x="385.11" y="350.30" width="15.41" height="16.7" fill="#f8f8f9"/><rect x="401.52" y="350.30" width="15.41" height="16.7" fill="#f8f8f9"/><rect x="417.92" y="350.30" width="15.41" height="16.7" fill="#f8f8f9"/><rect x="434.32" y="350.30" width="15.41" height="16.7" fill="#f8f8f9"/><rect x="450.73" y="350.30" width="15.41" height="16.7" fill="#f8f8f9"/><rect x="467.14" y="350.30" width="15.41" height="16.7" fill="#f8f8f9"/><rect x="483.54" y="350.30" width="15.41" height="16.7" fill="#f8f8f9"/><rect x="499.94" y="350.30" width="15.41" height="16.7" fill="#f8f8f9"/><rect x="516.35" y="350.30" width="15.41" height="16.7" fill="#f8f8f9"/><rect x="532.76" y="350.30" width="15.41" height="16.7" fill="#f8f8f9"/><rect x="549.16" y="350.30" width="15.41" height="16.7" fill="#f8f8f9"/><rect x="565.57" y="350.30" width="15.41" height="16.7" fill="#f8f8f9"/><rect x="581.97" y="350.30" width="15.41" height="16.7" fill="#f8f8f9"/><rect x="598.38" y="350.30" width="15.41" height="16.7" fill="#f8f8f9"/><rect x="614.78" y="350.30" width="15.41" height="16.7" fill="#f8f8f9"/><rect x="631.19" y="350.30" width="15.41" height="16.7" fill="#f8f8f9"/><rect x="647.59" y="350.30" width="15.41" height="16.7" fill="#f8f8f9"/><rect x="664.00" y="350.30" width="15.41" height="16.7" fill="#f8f8f9"/><rect x="680.40" y="350.30" width="15.41" height="16.7" fill="#f8f8f9"/><rect x="696.81" y="350.30" width="15.41" height="16.7" fill="#f8f8f9"/><rect x="713.21" y="350.30" width="15.41" height="16.7" fill="#f8f8f9"/><rect x="729.62" y="350.30" width="15.41" height="16.7" fill="#f8f8f9"/><rect x="746.02" y="350.30" width="15.41" height="16.7" fill="#f8f8f9"/><path d="M566.17,369.2 h15.11 v15.3 h-6.05 l-1.5,-1.6 l-1.5,1.6 h-6.05Z" fill="#8fd6f1"/><text x="31.50" y="380.80" font-family="'DejaVu Sans', 'Liberation Sans', sans-serif" font-size="7.8" fill="#3a3a3a" stroke="#3a3a3a" stroke-width="0.15" text-anchor="middle" textLength="8.35" lengthAdjust="spacingAndGlyphs">17</text><text x="47.91" y="380.80" font-family="'DejaVu Sans', 'Liberation Sans', sans-serif" font-size="7.8" fill="#3a3a3a" stroke="#3a3a3a" stroke-width="0.15" text-anchor="middle" textLength="8.35" lengthAdjust="spacingAndGlyphs">18</text><text x="64.31" y="380.80" font-family="'DejaVu Sans', 'Liberation Sans', sans-serif" font-size="7.8" fill="#3a3a3a" stroke="#3a3a3a" stroke-width="0.15" text-anchor="middle" textLength="8.35" lengthAdjust="spacingAndGlyphs">19</text><text x="80.72" y="380.80" font-family="'DejaVu Sans', 'Liberation Sans', sans-serif" font-size="7.8" fill="#3a3a3a" stroke="#3a3a3a" stroke-width="0.15" text-anchor="middle" textLength="8.35" lengthAdjust="spacingAndGlyphs">20</text><text x="97.12" y="380.80" font-family="'DejaVu Sans', 'Liberation Sans', sans-serif" font-size="7.8" fill="#a8446c" stroke="#a8446c" stroke-width="0.15" text-anchor="middle" textLength="8.35" lengthAdjust="spacingAndGlyphs">21</text><text x="113.53" y="380.80" font-family="'DejaVu Sans', 'Liberation Sans', sans-serif" font-size="7.8" fill="#a8446c" stroke="#a8446c" stroke-width="0.15" text-anchor="middle" textLength="8.35" lengthAdjust="spacingAndGlyphs">22</text><text x="129.93" y="380.80" font-family="'DejaVu Sans', 'Liberation Sans', sans-serif" font-size="7.8" fill="#3a3a3a" stroke="#3a3a3a" stroke-width="0.15" text-anchor="middle" textLength="8.35" lengthAdjust="spacingAndGlyphs">23</text><text x="146.34" y="380.80" font-family="'DejaVu Sans', 'Liberation Sans', sans-serif" font-size="7.8" fill="#3a3a3a" stroke="#3a3a3a" stroke-width="0.15" text-anchor="middle" textLength="8.35" lengthAdjust="spacingAndGlyphs">24</text><text x="162.74" y="380.80" font-family="'DejaVu Sans', 'Liberation Sans', sans-serif" font-size="7.8" fill="#3a3a3a" stroke="#3a3a3a" stroke-width="0.15" text-anchor="middle" textLength="8.35" lengthAdjust="spacingAndGlyphs">25</text><text x="179.15" y="380.80" font-family="'DejaVu Sans', 'Liberation Sans', sans-serif" font-size="7.8" fill="#3a3a3a" stroke="#3a3a3a" stroke-width="0.15" text-anchor="middle" textLength="8.35" lengthAdjust="spacingAndGlyphs">26</text><text x="195.55" y="380.80" font-family="'DejaVu Sans', 'Liberation Sans', sans-serif" font-size="7.8" fill="#3a3a3a" stroke="#3a3a3a" stroke-width="0.15" text-anchor="middle" textLength="8.35" lengthAdjust="spacingAndGlyphs">27</text><text x="211.96" y="380.80" font-family="'DejaVu Sans', 'Liberation Sans', sans-serif" font-size="7.8" fill="#a8446c" stroke="#a8446c" stroke-width="0.15" text-anchor="middle" textLength="8.35" lengthAdjust="spacingAndGlyphs">28</text><text x="228.36" y="380.80" font-family="'DejaVu Sans', 'Liberation Sans', sans-serif" font-size="7.8" fill="#a8446c" stroke="#a8446c" stroke-width="0.15" text-anchor="middle" textLength="8.35" lengthAdjust="spacingAndGlyphs">01</text><text x="244.77" y="380.80" font-family="'DejaVu Sans', 'Liberation Sans', sans-serif" font-size="7.8" fill="#3a3a3a" stroke="#3a3a3a" stroke-width="0.15" text-anchor="middle" textLength="8.35" lengthAdjust="spacingAndGlyphs">02</text><text x="261.17" y="380.80" font-family="'DejaVu Sans', 'Liberation Sans', sans-serif" font-size="7.8" fill="#3a3a3a" stroke="#3a3a3a" stroke-width="0.15" text-anchor="middle" textLength="8.35" lengthAdjust="spacingAndGlyphs">03</text><text x="277.58" y="380.80" font-family="'DejaVu Sans', 'Liberation Sans', sans-serif" font-size="7.8" fill="#3a3a3a" stroke="#3a3a3a" stroke-width="0.15" text-anchor="middle" textLength="8.35" lengthAdjust="spacingAndGlyphs">04</text><text x="293.98" y="380.80" font-family="'DejaVu Sans', 'Liberation Sans', sans-serif" font-size="7.8" fill="#3a3a3a" stroke="#3a3a3a" stroke-width="0.15" text-anchor="middle" textLength="8.35" lengthAdjust="spacingAndGlyphs">05</text><text x="310.39" y="380.80" font-family="'DejaVu Sans', 'Liberation Sans', sans-serif" font-size="7.8" fill="#3a3a3a" stroke="#3a3a3a" stroke-width="0.15" text-anchor="middle" textLength="8.35" lengthAdjust="spacingAndGlyphs">06</text><text x="326.79" y="380.80" font-family="'DejaVu Sans', 'Liberation Sans', sans-serif" font-size="7.8" fill="#a8446c" stroke="#a8446c" stroke-width="0.15" text-anchor="middle" textLength="8.35" lengthAdjust="spacingAndGlyphs">07</text><text x="343.20" y="380.80" font-family="'DejaVu Sans', 'Liberation Sans', sans-serif" font-size="7.8" fill="#a8446c" stroke="#a8446c" stroke-width="0.15" text-anchor="middle" textLength="8.35" lengthAdjust="spacingAndGlyphs">08</text><text x="359.60" y="380.80" font-family="'DejaVu Sans', 'Liberation Sans', sans-serif" font-size="7.8" fill="#3a3a3a" stroke="#3a3a3a" stroke-width="0.15" text-anchor="middle" textLength="8.35" lengthAdjust="spacingAndGlyphs">09</text><text x="376.01" y="380.80" font-family="'DejaVu Sans', 'Liberation Sans', sans-serif" font-size="7.8" fill="#3a3a3a" stroke="#3a3a3a" stroke-width="0.15" text-anchor="middle" textLength="8.35" lengthAdjust="spacingAndGlyphs">10</text><text x="392.41" y="380.80" font-family="'DejaVu Sans', 'Liberation Sans', sans-serif" font-size="7.8" fill="#3a3a3a" stroke="#3a3a3a" stroke-width="0.15" text-anchor="middle" textLength="8.35" lengthAdjust="spacingAndGlyphs">11</text><text x="408.82" y="380.80" font-family="'DejaVu Sans', 'Liberation Sans', sans-serif" font-size="7.8" fill="#3a3a3a" stroke="#3a3a3a" stroke-width="0.15" text-anchor="middle" textLength="8.35" lengthAdjust="spacingAndGlyphs">12</text><text x="425.22" y="380.80" font-family="'DejaVu Sans', 'Liberation Sans', sans-serif" font-size="7.8" fill="#3a3a3a" stroke="#3a3a3a" stroke-width="0.15" text-anchor="middle" textLength="8.35" lengthAdjust="spacingAndGlyphs">13</text><text x="441.63" y="380.80" font-family="'DejaVu Sans', 'Liberation Sans', sans-serif" font-size="7.8" fill="#a8446c" stroke="#a8446c" stroke-width="0.15" text-anchor="middle" textLength="8.35" lengthAdjust="spacingAndGlyphs">14</text><text x="458.03" y="380.80" font-family="'DejaVu Sans', 'Liberation Sans', sans-serif" font-size="7.8" fill="#a8446c" stroke="#a8446c" stroke-width="0.15" text-anchor="middle" textLength="8.35" lengthAdjust="spacingAndGlyphs">15</text><text x="474.44" y="380.80" font-family="'DejaVu Sans', 'Liberation Sans', sans-serif" font-size="7.8" fill="#3a3a3a" stroke="#3a3a3a" stroke-width="0.15" text-anchor="middle" textLength="8.35" lengthAdjust="spacingAndGlyphs">16</text><text x="490.84" y="380.80" font-family="'DejaVu Sans', 'Liberation Sans', sans-serif" font-size="7.8" fill="#3a3a3a" stroke="#3a3a3a" stroke-width="0.15" text-anchor="middle" textLength="8.35" lengthAdjust="spacingAndGlyphs">17</text><text x="507.25" y="380.80" font-family="'DejaVu Sans', 'Liberation Sans', sans-serif" font-size="7.8" fill="#3a3a3a" stroke="#3a3a3a" stroke-width="0.15" text-anchor="middle" textLength="8.35" lengthAdjust="spacingAndGlyphs">18</text><text x="523.65" y="380.80" font-family="'DejaVu Sans', 'Liberation Sans', sans-serif" font-size="7.8" fill="#3a3a3a" stroke="#3a3a3a" stroke-width="0.15" text-anchor="middle" textLength="8.35" lengthAdjust="spacingAndGlyphs">19</text><text x="540.06" y="380.80" font-family="'DejaVu Sans', 'Liberation Sans', sans-serif" font-size="7.8" fill="#3a3a3a" stroke="#3a3a3a" stroke-width="0.15" text-anchor="middle" textLength="8.35" lengthAdjust="spacingAndGlyphs">20</text><text x="556.46" y="380.80" font-family="'DejaVu Sans', 'Liberation Sans', sans-serif" font-size="7.8" fill="#a8446c" stroke="#a8446c" stroke-width="0.15" text-anchor="middle" textLength="8.35" lengthAdjust="spacingAndGlyphs">21</text><text x="572.47" y="379.80" font-family="'DejaVu Sans', 'Liberation Sans', sans-serif" font-size="9.2" fill="#3b6d8c" stroke="#3b6d8c" stroke-width="0.2" text-anchor="middle" textLength="10.14" lengthAdjust="spacingAndGlyphs">22</text><text x="589.27" y="380.80" font-family="'DejaVu Sans', 'Liberation Sans', sans-serif" font-size="7.8" fill="#3a3a3a" stroke="#3a3a3a" stroke-width="0.15" text-anchor="middle" textLength="8.35" lengthAdjust="spacingAndGlyphs">23</text><text x="605.68" y="380.80" font-family="'DejaVu Sans', 'Liberation Sans', sans-serif" font-size="7.8" fill="#3a3a3a" stroke="#3a3a3a" stroke-width="0.15" text-anchor="middle" textLength="8.35" lengthAdjust="spacingAndGlyphs">24</text><text x="622.08" y="380.80" font-family="'DejaVu Sans', 'Liberation Sans', sans-serif" font-size="7.8" fill="#3a3a3a" stroke="#3a3a3a" stroke-width="0.15" text-anchor="middle" textLength="8.35" lengthAdjust="spacingAndGlyphs">25</text><text x="638.49" y="380.80" font-family="'DejaVu Sans', 'Liberation Sans', sans-serif" font-size="7.8" fill="#3a3a3a" stroke="#3a3a3a" stroke-width="0.15" text-anchor="middle" textLength="8.35" lengthAdjust="spacingAndGlyphs">26</text><text x="654.89" y="380.80" font-family="'DejaVu Sans', 'Liberation Sans', sans-serif" font-size="7.8" fill="#3a3a3a" stroke="#3a3a3a" stroke-width="0.15" text-anchor="middle" textLength="8.35" lengthAdjust="spacingAndGlyphs">27</text><text x="671.30" y="380.80" font-family="'DejaVu Sans', 'Liberation Sans', sans-serif" font-size="7.8" fill="#a8446c" stroke="#a8446c" stroke-width="0.15" text-anchor="middle" textLength="8.35" lengthAdjust="spacingAndGlyphs">28</text><text x="687.70" y="380.80" font-family="'DejaVu Sans', 'Liberation Sans', sans-serif" font-size="7.8" fill="#a8446c" stroke="#a8446c" stroke-width="0.15" text-anchor="middle" textLength="8.35" lengthAdjust="spacingAndGlyphs">29</text><text x="704.11" y="380.80" font-family="'DejaVu Sans', 'Liberation Sans', sans-serif" font-size="7.8" fill="#3a3a3a" stroke="#3a3a3a" stroke-width="0.15" text-anchor="middle" textLength="8.35" lengthAdjust="spacingAndGlyphs">30</text><text x="720.51" y="380.80" font-family="'DejaVu Sans', 'Liberation Sans', sans-serif" font-size="7.8" fill="#3a3a3a" stroke="#3a3a3a" stroke-width="0.15" text-anchor="middle" textLength="8.35" lengthAdjust="spacingAndGlyphs">31</text><text x="736.92" y="380.80" font-family="'DejaVu Sans', 'Liberation Sans', sans-serif" font-size="7.8" fill="#3a3a3a" stroke="#3a3a3a" stroke-width="0.15" text-anchor="middle" textLength="8.35" lengthAdjust="spacingAndGlyphs">01</text><text x="753.32" y="380.80" font-family="'DejaVu Sans', 'Liberation Sans', sans-serif" font-size="7.8" fill="#3a3a3a" stroke="#3a3a3a" stroke-width="0.15" text-anchor="middle" textLength="8.35" lengthAdjust="spacingAndGlyphs">02</text><line x1="220.76" y1="370.5" x2="220.76" y2="396" stroke="#555" stroke-width="1"/><line x1="729.32" y1="370.5" x2="729.32" y2="396" stroke="#555" stroke-width="1"/><text x="24.30" y="394.60" font-family="'DejaVu Sans', 'Liberation Sans', sans-serif" font-size="8.8" fill="#505050" textLength="37.22" lengthAdjust="spacingAndGlyphs">Февраль</text><text x="224.10" y="394.60" font-family="'DejaVu Sans', 'Liberation Sans', sans-serif" font-size="8.8" fill="#505050" textLength="22.52" lengthAdjust="spacingAndGlyphs">Март</text><text x="733.60" y="394.60" font-family="'DejaVu Sans', 'Liberation Sans', sans-serif" font-size="8.8" fill="#505050" textLength="31.62" lengthAdjust="spacingAndGlyphs">Апрель</text><line x1="22" y1="396.5" x2="532" y2="396.5" stroke="#eee" stroke-width="1"/><path d="M32.20,282.60 C33.71,285.24 36.52,287.90 36.52,290.28 A4.32,4.32 0 0 1 27.88,290.28 C27.88,287.90 30.69,285.24 32.20,282.60Z" fill="#f04848"/><path d="M48.61,282.60 C50.12,285.24 52.93,287.90 52.93,290.28 A4.32,4.32 0 0 1 44.29,290.28 C44.29,287.90 47.10,285.24 48.61,282.60Z" fill="#f04848"/><path d="M65.01,284.80 C66.02,286.56 67.89,288.34 67.89,289.92 A2.88,2.88 0 0 1 62.13,289.92 C62.13,288.34 64.00,286.56 65.01,284.80Z" fill="#f04848"/><path d="M81.42,284.80 C82.43,286.56 84.30,288.34 84.30,289.92 A2.88,2.88 0 0 1 78.54,289.92 C78.54,288.34 80.41,286.56 81.42,284.80Z" fill="#f04848"/><circle cx="344.10" cy="288.4" r="6.2" fill="#f9d240"/><rect x="502.95" y="300.00" width="3.2" height="11.2" rx="1.6" fill="#8cae2a"/><rect x="509.95" y="300.00" width="3.2" height="11.2" rx="1.6" fill="#c9d99d"/><rect x="523.05" y="300.00" width="3.2" height="11.2" rx="1.6" fill="#8cae2a"/><rect x="555.86" y="300.00" width="3.2" height="11.2" rx="1.6" fill="#8cae2a"/><path transform="translate(76.32,319.72) scale(1.040)" d="M5,9.2 C3.5,8 0,5.8 0,3 C0,1.2 1.3,0 2.8,0 C3.8,0 4.6,0.6 5,1.4 C5.4,0.6 6.2,0 7.2,0 C8.7,0 10,1.2 10,3 C10,5.8 6.5,8 5,9.2Z" fill="#f24fa8"/><path transform="translate(109.13,319.72) scale(1.040)" d="M5,9.2 C3.5,8 0,5.8 0,3 C0,1.2 1.3,0 2.8,0 C3.8,0 4.6,0.6 5,1.4 C5.4,0.6 6.2,0 7.2,0 C8.7,0 10,1.2 10,3 C10,5.8 6.5,8 5,9.2Z" fill="#f24fa8"/><path transform="translate(158.34,319.72) scale(1.040)" d="M5,9.2 C3.5,8 0,5.8 0,3 C0,1.2 1.3,0 2.8,0 C3.8,0 4.6,0.6 5,1.4 C5.4,0.6 6.2,0 7.2,0 C8.7,0 10,1.2 10,3 C10,5.8 6.5,8 5,9.2Z" fill="#f24fa8"/><path transform="translate(256.77,319.72) scale(1.040)" d="M5,9.2 C3.5,8 0,5.8 0,3 C0,1.2 1.3,0 2.8,0 C3.8,0 4.6,0.6 5,1.4 C5.4,0.6 6.2,0 7.2,0 C8.7,0 10,1.2 10,3 C10,5.8 6.5,8 5,9.2Z" fill="#f24fa8"/><path transform="translate(322.39,319.72) scale(1.040)" d="M5,9.2 C3.5,8 0,5.8 0,3 C0,1.2 1.3,0 2.8,0 C3.8,0 4.6,0.6 5,1.4 C5.4,0.6 6.2,0 7.2,0 C8.7,0 10,1.2 10,3 C10,5.8 6.5,8 5,9.2Z" fill="#f24fa8"/><path transform="translate(355.20,319.72) scale(1.040)" d="M5,9.2 C3.5,8 0,5.8 0,3 C0,1.2 1.3,0 2.8,0 C3.8,0 4.6,0.6 5,1.4 C5.4,0.6 6.2,0 7.2,0 C8.7,0 10,1.2 10,3 C10,5.8 6.5,8 5,9.2Z" fill="#f24fa8"/><path transform="translate(371.61,319.72) scale(1.040)" d="M5,9.2 C3.5,8 0,5.8 0,3 C0,1.2 1.3,0 2.8,0 C3.8,0 4.6,0.6 5,1.4 C5.4,0.6 6.2,0 7.2,0 C8.7,0 10,1.2 10,3 C10,5.8 6.5,8 5,9.2Z" fill="#f24fa8"/><circle cx="32.20" cy="341.70" r="6.00" fill="#c6c6c6"/><line x1="30.04" y1="344.70" x2="34.36" y2="338.70" stroke="#fff" stroke-width="1.80" stroke-linecap="round"/><circle cx="48.61" cy="341.70" r="6.00" fill="#c6c6c6"/><line x1="46.45" y1="344.70" x2="50.77" y2="338.70" stroke="#fff" stroke-width="1.80" stroke-linecap="round"/><circle cx="65.01" cy="341.70" r="6.00" fill="#c6c6c6"/><line x1="62.85" y1="344.70" x2="67.17" y2="338.70" stroke="#fff" stroke-width="1.80" stroke-linecap="round"/><circle cx="81.42" cy="341.70" r="6.00" fill="#c6c6c6"/><line x1="79.26" y1="344.70" x2="83.58" y2="338.70" stroke="#fff" stroke-width="1.80" stroke-linecap="round"/><circle cx="97.82" cy="341.70" r="6.00" fill="#c6c6c6"/><line x1="95.66" y1="344.70" x2="99.98" y2="338.70" stroke="#fff" stroke-width="1.80" stroke-linecap="round"/><circle cx="114.23" cy="341.70" r="6.00" fill="#c6c6c6"/><line x1="112.07" y1="344.70" x2="116.39" y2="338.70" stroke="#fff" stroke-width="1.80" stroke-linecap="round"/><circle cx="130.63" cy="341.70" r="6.00" fill="#c6c6c6"/><line x1="128.47" y1="344.70" x2="132.79" y2="338.70" stroke="#fff" stroke-width="1.80" stroke-linecap="round"/><circle cx="147.04" cy="341.70" r="6.00" fill="#c6c6c6"/><line x1="144.88" y1="344.70" x2="149.20" y2="338.70" stroke="#fff" stroke-width="1.80" stroke-linecap="round"/><circle cx="393.11" cy="341.70" r="6.00" fill="#c6c6c6"/><line x1="390.95" y1="344.70" x2="395.27" y2="338.70" stroke="#fff" stroke-width="1.80" stroke-linecap="round"/><circle cx="409.52" cy="341.70" r="6.00" fill="#c6c6c6"/><line x1="407.36" y1="344.70" x2="411.68" y2="338.70" stroke="#fff" stroke-width="1.80" stroke-linecap="round"/><circle cx="425.92" cy="341.70" r="6.00" fill="#c6c6c6"/><line x1="423.76" y1="344.70" x2="428.08" y2="338.70" stroke="#fff" stroke-width="1.80" stroke-linecap="round"/><circle cx="442.33" cy="341.70" r="6.00" fill="#c6c6c6"/><line x1="440.17" y1="344.70" x2="444.49" y2="338.70" stroke="#fff" stroke-width="1.80" stroke-linecap="round"/><circle cx="458.73" cy="341.70" r="6.00" fill="#c6c6c6"/><line x1="456.57" y1="344.70" x2="460.89" y2="338.70" stroke="#fff" stroke-width="1.80" stroke-linecap="round"/><circle cx="475.14" cy="341.70" r="6.00" fill="#c6c6c6"/><line x1="472.98" y1="344.70" x2="477.30" y2="338.70" stroke="#fff" stroke-width="1.80" stroke-linecap="round"/><circle cx="491.54" cy="341.70" r="6.00" fill="#c6c6c6"/><line x1="489.38" y1="344.70" x2="493.70" y2="338.70" stroke="#fff" stroke-width="1.80" stroke-linecap="round"/><circle cx="507.95" cy="341.70" r="6.00" fill="#c6c6c6"/><line x1="505.79" y1="344.70" x2="510.11" y2="338.70" stroke="#fff" stroke-width="1.80" stroke-linecap="round"/><circle cx="524.35" cy="341.70" r="6.00" fill="#c6c6c6"/><line x1="522.19" y1="344.70" x2="526.51" y2="338.70" stroke="#fff" stroke-width="1.80" stroke-linecap="round"/><circle cx="540.76" cy="341.70" r="6.00" fill="#c6c6c6"/><line x1="538.60" y1="344.70" x2="542.92" y2="338.70" stroke="#fff" stroke-width="1.80" stroke-linecap="round"/><text x="27.10" y="422.90" font-family="'DejaVu Sans', 'Liberation Sans', sans-serif" font-size="9.0" fill="#2e2e2e" font-weight="bold" textLength="59.73" lengthAdjust="spacingAndGlyphs">Менструация</text><path d="M33.20,430.05 C34.62,432.54 37.27,435.04 37.27,437.28 A4.07,4.07 0 0 1 29.13,437.28 C29.13,435.04 31.78,432.54 33.20,430.05Z" fill="#f04848"/><text x="44.50" y="439.60" font-family="'DejaVu Sans', 'Liberation Sans', sans-serif" font-size="9.3" fill="#2e2e2e" stroke="#2e2e2e" stroke-width="0.18" textLength="54.65" lengthAdjust="spacingAndGlyphs">Менструация</text><path d="M33.70,450.60 C34.71,452.36 36.58,454.14 36.58,455.72 A2.88,2.88 0 0 1 30.82,455.72 C30.82,454.14 32.69,452.36 33.70,450.60Z" fill="#f04848"/><text x="44.50" y="457.80" font-family="'DejaVu Sans', 'Liberation Sans', sans-serif" font-size="9.3" fill="#2e2e2e" stroke="#2e2e2e" stroke-width="0.18" textLength="95.15" lengthAdjust="spacingAndGlyphs">Небольшие выделения</text><text x="160.50" y="422.90" font-family="'DejaVu Sans', 'Liberation Sans', sans-serif" font-size="9.0" fill="#2e2e2e" font-weight="bold" textLength="78.73" lengthAdjust="spacingAndGlyphs">Тест на овуляцию</text><circle cx="166" cy="436.4" r="6" fill="#f9d240"/><text x="177.40" y="439.60" font-family="'DejaVu Sans', 'Liberation Sans', sans-serif" font-size="9.3" fill="#2e2e2e" stroke="#2e2e2e" stroke-width="0.18" textLength="66.45" lengthAdjust="spacingAndGlyphs">Положительный</text><circle cx="166" cy="454" r="5.4" fill="#fff" stroke="#f3e08c" stroke-width="1.1"/><text x="177.40" y="457.80" font-family="'DejaVu Sans', 'Liberation Sans', sans-serif" font-size="9.3" fill="#2e2e2e" stroke="#2e2e2e" stroke-width="0.18" textLength="64.45" lengthAdjust="spacingAndGlyphs">Отрицательный</text><text x="272.60" y="422.90" font-family="'DejaVu Sans', 'Liberation Sans', sans-serif" font-size="9.0" fill="#2e2e2e" font-weight="bold" textLength="98.53" lengthAdjust="spacingAndGlyphs">Тест на беременность</text><rect x="273.65" y="430.35" width="2.5" height="10.5" rx="1.25" fill="#8cae2a"/><rect x="280.85" y="430.35" width="2.5" height="10.5" rx="1.25" fill="#8cae2a"/><text x="290.00" y="439.60" font-family="'DejaVu Sans', 'Liberation Sans', sans-serif" font-size="9.3" fill="#2e2e2e" stroke="#2e2e2e" stroke-width="0.18" textLength="66.45" lengthAdjust="spacingAndGlyphs">Положительный</text><rect x="277.15" y="448.55" width="2.5" height="10.5" rx="1.25" fill="#8cae2a"/><text x="290.00" y="457.80" font-family="'DejaVu Sans', 'Liberation Sans', sans-serif" font-size="9.3" fill="#2e2e2e" stroke="#2e2e2e" stroke-width="0.18" textLength="64.45" lengthAdjust="spacingAndGlyphs">Отрицательный</text><rect x="273.65" y="466.45" width="2.5" height="10.5" rx="1.25" fill="#8cae2a"/><rect x="280.85" y="466.45" width="2.5" height="10.5" rx="1.25" fill="#c9d99d"/><text x="290.00" y="474.80" font-family="'DejaVu Sans', 'Liberation Sans', sans-serif" font-size="9.3" fill="#2e2e2e" stroke="#2e2e2e" stroke-width="0.18" textLength="90.15" lengthAdjust="spacingAndGlyphs">Слабоположительный</text><text x="407.30" y="422.90" font-family="'DejaVu Sans', 'Liberation Sans', sans-serif" font-size="9.0" fill="#2e2e2e" font-weight="bold" textLength="110.93" lengthAdjust="spacingAndGlyphs">Цервикальная жидкость</text><path d="M414.50,434.90 C415.53,436.70 417.45,438.52 417.45,440.15 A2.95,2.95 0 0 1 411.55,440.15 C411.55,438.52 413.47,436.70 414.50,434.90Z" fill="#fff" stroke="#7fc0ea" stroke-width="0.9"/><text x="425.80" y="441.60" font-family="'DejaVu Sans', 'Liberation Sans', sans-serif" font-size="9.3" fill="#2e2e2e" stroke="#2e2e2e" stroke-width="0.18" textLength="19.65" lengthAdjust="spacingAndGlyphs">Сухо</text><path d="M411,451.8 H417.8 Q415.2,453 414.9,455.5 V457.5 Q415.2,459.6 417.8,460.8 V461.2 H411 V460.8 Q413.6,459.6 413.9,457.5 V455.5 Q413.6,453 411,451.8Z" fill="#7fc0ea"/><text x="425.80" y="459.60" font-family="'DejaVu Sans', 'Liberation Sans', sans-serif" font-size="9.3" fill="#2e2e2e" stroke="#2e2e2e" stroke-width="0.18" textLength="33.45" lengthAdjust="spacingAndGlyphs">Клейкая</text><path d="M410.4,469.2 Q414.5,469.3 417.3,472.2 Q418.6,474.5 417.6,476.6 Q416.2,478.6 413.9,478.5 Q411.4,478.2 411.2,475.8 Q411.1,473.8 413.2,472.6 Q412.6,470.6 410.4,469.2Z" fill="#7fc0ea"/><text x="425.80" y="476.70" font-family="'DejaVu Sans', 'Liberation Sans', sans-serif" font-size="9.3" fill="#2e2e2e" stroke="#2e2e2e" stroke-width="0.18" textLength="65.35" lengthAdjust="spacingAndGlyphs">Кремообразная</text><path d="M414.30,484.00 C415.56,486.20 417.90,488.42 417.90,490.40 A3.60,3.60 0 0 1 410.70,490.40 C410.70,488.42 413.04,486.20 414.30,484.00Z" fill="#7fc0ea"/><text x="425.80" y="493.70" font-family="'DejaVu Sans', 'Liberation Sans', sans-serif" font-size="9.3" fill="#2e2e2e" stroke="#2e2e2e" stroke-width="0.18" textLength="47.95" lengthAdjust="spacingAndGlyphs">Водянистая</text><ellipse cx="414.4" cy="506.7" rx="3.9" ry="5.2" fill="#7fc0ea"/><text x="425.80" y="511.10" font-family="'DejaVu Sans', 'Liberation Sans', sans-serif" font-size="9.3" fill="#2e2e2e" stroke="#2e2e2e" stroke-width="0.18" textLength="58.55" lengthAdjust="spacingAndGlyphs">Яичный белок</text><path transform="translate(26.55,502.82) scale(1.170)" d="M5,9.2 C3.5,8 0,5.8 0,3 C0,1.2 1.3,0 2.8,0 C3.8,0 4.6,0.6 5,1.4 C5.4,0.6 6.2,0 7.2,0 C8.7,0 10,1.2 10,3 C10,5.8 6.5,8 5,9.2Z" fill="#f24fa8"/><text x="44.50" y="511.80" font-family="'DejaVu Sans', 'Liberation Sans', sans-serif" font-size="9.3" fill="#2e2e2e" stroke="#2e2e2e" stroke-width="0.18" textLength="51.35" lengthAdjust="spacingAndGlyphs">Половой акт</text><circle cx="120.30" cy="508.00" r="5.80" fill="#c6c6c6"/><line x1="118.21" y1="510.90" x2="122.39" y2="505.10" stroke="#fff" stroke-width="1.74" stroke-linecap="round"/><text x="130.50" y="511.80" font-family="'DejaVu Sans', 'Liberation Sans', sans-serif" font-size="9.3" fill="#2e2e2e" stroke="#2e2e2e" stroke-width="0.18" textLength="66.75" lengthAdjust="spacingAndGlyphs">Прием лекарств</text><path d="M223.2,502.2 A6,6 0 1 0 229.5,510.5 A5,5 0 0 1 223.2,502.2Z" fill="#f09a22"/><text x="234.00" y="511.80" font-family="'DejaVu Sans', 'Liberation Sans', sans-serif" font-size="9.3" fill="#2e2e2e" stroke="#2e2e2e" stroke-width="0.18" textLength="78.95" lengthAdjust="spacingAndGlyphs">Лунный календарь</text></svg>
</body></html>
